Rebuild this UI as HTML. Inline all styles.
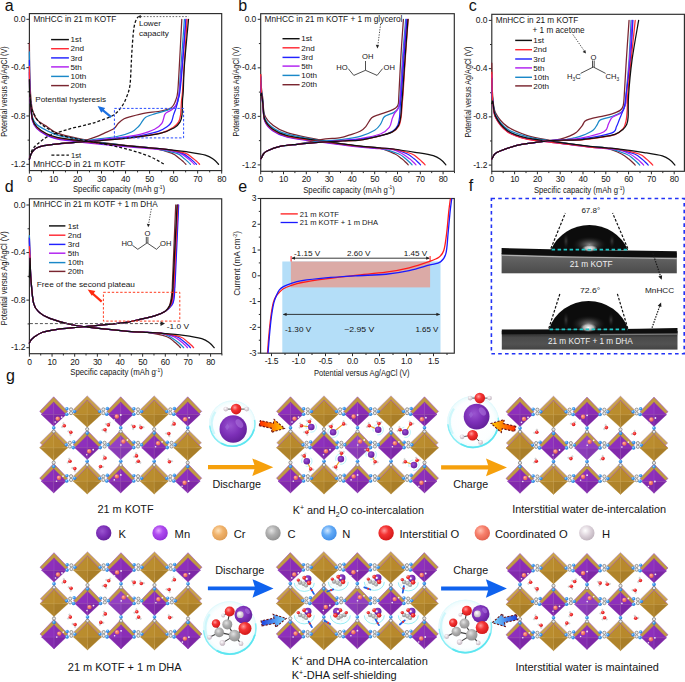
<!DOCTYPE html>
<html><head><meta charset="utf-8"><style>
html,body{margin:0;padding:0;background:#fff;}
body{width:685px;height:682px;overflow:hidden;}
svg{display:block;font-family:"Liberation Sans", sans-serif;}
</style></head><body>
<svg width="685" height="682" viewBox="0 0 685 682">
<rect x="29.4" y="13.6" width="192.3" height="157" fill="none" stroke="#2b2b2b" stroke-width="1.15"/>
<path d="M29.4,170.6v3M53.44,170.6v3M77.47,170.6v3M101.51,170.6v3M125.55,170.6v3M149.59,170.6v3M173.62,170.6v3M197.66,170.6v3M221.7,170.6v3M41.42,170.6v1.8M65.46,170.6v1.8M89.49,170.6v1.8M113.53,170.6v1.8M137.57,170.6v1.8M161.61,170.6v1.8M185.64,170.6v1.8M209.68,170.6v1.8M29.4,19.3h-3M29.4,67.63h-3M29.4,115.97h-3M29.4,164.3h-3M29.4,43.47h-1.8M29.4,91.8h-1.8M29.4,140.13h-1.8" stroke="#2b2b2b" stroke-width="1" fill="none"/>
<text x="29.4" y="181.7" font-size="8.5" text-anchor="middle" fill="#151515" letter-spacing="-0.3">0</text>
<text x="53.44" y="181.7" font-size="8.5" text-anchor="middle" fill="#151515" letter-spacing="-0.3">10</text>
<text x="77.47" y="181.7" font-size="8.5" text-anchor="middle" fill="#151515" letter-spacing="-0.3">20</text>
<text x="101.51" y="181.7" font-size="8.5" text-anchor="middle" fill="#151515" letter-spacing="-0.3">30</text>
<text x="125.55" y="181.7" font-size="8.5" text-anchor="middle" fill="#151515" letter-spacing="-0.3">40</text>
<text x="149.59" y="181.7" font-size="8.5" text-anchor="middle" fill="#151515" letter-spacing="-0.3">50</text>
<text x="173.62" y="181.7" font-size="8.5" text-anchor="middle" fill="#151515" letter-spacing="-0.3">60</text>
<text x="197.66" y="181.7" font-size="8.5" text-anchor="middle" fill="#151515" letter-spacing="-0.3">70</text>
<text x="221.7" y="181.7" font-size="8.5" text-anchor="middle" fill="#151515" letter-spacing="-0.3">80</text>
<text x="25.3" y="21.9" font-size="8.5" text-anchor="end" fill="#151515" letter-spacing="-0.1">0.0</text>
<text x="25.3" y="70.23" font-size="8.5" text-anchor="end" fill="#151515" letter-spacing="-0.1">-0.4</text>
<text x="25.3" y="118.57" font-size="8.5" text-anchor="end" fill="#151515" letter-spacing="-0.1">-0.8</text>
<text x="25.3" y="166.9" font-size="8.5" text-anchor="end" fill="#151515" letter-spacing="-0.1">-1.2</text>
<text transform="translate(7.3,91.6) rotate(-90)" text-anchor="middle" font-size="8.5" fill="#151515" textLength="90.3" lengthAdjust="spacingAndGlyphs">Potential versus Ag/AgCl (V)</text>
<text x="72.9" y="192.2" font-size="8.3" textLength="92.2" lengthAdjust="spacingAndGlyphs" fill="#151515">Specific capacity (mAh g<tspan font-size="5.2" dy="-3.2">-1</tspan><tspan dy="3.2">)</tspan></text>
<text x="33.4" y="21.7" font-size="8.2" textLength="82.8" lengthAdjust="spacingAndGlyphs" fill="#151515">MnHCC in 21 m KOTF</text>
<text x="33.2" y="166.9" font-size="8.2" textLength="92" lengthAdjust="spacingAndGlyphs" fill="#151515">MnHCC-D in 21 m KOTF</text>
<line x1="51.1" y1="39.6" x2="68.9" y2="39.6" stroke="#111111" stroke-width="1.45"/>
<text x="70.6" y="42.3" font-size="8.1" fill="#151515">1st</text>
<line x1="51.1" y1="48.7" x2="68.9" y2="48.7" stroke="#ff2a35" stroke-width="1.45"/>
<text x="70.6" y="51.4" font-size="8.1" fill="#151515">2nd</text>
<line x1="51.1" y1="57.9" x2="68.9" y2="57.9" stroke="#2222ff" stroke-width="1.45"/>
<text x="70.6" y="60.6" font-size="8.1" fill="#151515">3rd</text>
<line x1="51.1" y1="66.9" x2="68.9" y2="66.9" stroke="#b020f0" stroke-width="1.45"/>
<text x="70.6" y="69.6" font-size="8.1" fill="#151515">5th</text>
<line x1="51.1" y1="76.4" x2="68.9" y2="76.4" stroke="#1a88c8" stroke-width="1.45"/>
<text x="70.6" y="79.1" font-size="8.1" fill="#151515">10th</text>
<line x1="51.1" y1="85.6" x2="68.9" y2="85.6" stroke="#7a2630" stroke-width="1.45"/>
<text x="70.6" y="88.3" font-size="8.1" fill="#151515">20th</text>
<path d="M29.4,43.47 C29.45,48.1 29.49,62.83 29.69,71.25 C29.89,79.66 30.15,87.57 30.6,93.98 C31.05,100.38 31.36,105.41 32.4,109.68 C33.45,113.95 34.55,116.85 36.85,119.59 C39.16,122.33 42.82,123.86 46.23,126.12 C49.63,128.37 52,131.09 57.28,133.12 C62.57,135.16 70.58,136.78 77.96,138.32 C85.33,139.86 93.58,141.19 101.51,142.38 C109.44,143.57 117.54,144.56 125.55,145.45 C133.56,146.34 141.94,146.46 149.59,147.75 C157.24,149.03 166.53,151.43 171.46,153.18 C176.39,154.94 177.15,156.81 179.15,158.26 C181.16,159.71 182.36,160.88 183.48,161.88 C184.6,162.89 185.48,163.9 185.88,164.3" fill="none" stroke="#7a2630" stroke-width="1.25" stroke-linejoin="round" stroke-linecap="round"/>
<path d="M29.4,51.93 C29.45,56.38 29.49,70.56 29.69,78.67 C29.89,86.77 30.15,94.15 30.6,100.55 C31.05,106.95 31.36,113.07 32.4,117.05 C33.45,121.03 34.55,122.23 36.85,124.43 C39.16,126.62 42.82,128.45 46.23,130.22 C49.63,132 52,133.59 57.28,135.06 C62.57,136.53 70.58,137.77 77.96,139.05 C85.33,140.32 93.58,141.62 101.51,142.7 C109.44,143.79 117.54,144.7 125.55,145.55 C133.56,146.4 141.17,146.52 149.59,147.79 C158,149.07 170.34,151.44 176.03,153.18 C181.72,154.93 181.72,156.81 183.72,158.26 C185.72,159.71 186.93,160.88 188.05,161.88 C189.17,162.89 190.05,163.9 190.45,164.3" fill="none" stroke="#1a88c8" stroke-width="1.25" stroke-linejoin="round" stroke-linecap="round"/>
<path d="M29.4,72.47 C29.45,75.4 29.49,84.74 29.69,90.08 C29.89,95.41 30.15,99.41 30.6,104.49 C31.05,109.57 31.36,116.53 32.4,120.56 C33.45,124.59 34.55,126.22 36.85,128.65 C39.16,131.09 42.82,133.45 46.23,135.18 C49.63,136.91 52,137.94 57.28,139.05 C62.57,140.15 70.58,140.94 77.96,141.82 C85.33,142.71 93.58,143.58 101.51,144.36 C109.44,145.15 117.54,145.83 125.55,146.54 C133.56,147.24 142.78,148.03 149.59,148.59 C156.4,149.16 161.37,149.16 166.41,149.92 C171.46,150.69 176.35,151.79 179.87,153.18 C183.4,154.57 185.56,156.81 187.57,158.26 C189.57,159.71 190.77,160.88 191.89,161.88 C193.02,162.89 193.9,163.9 194.3,164.3" fill="none" stroke="#b020f0" stroke-width="1.25" stroke-linejoin="round" stroke-linecap="round"/>
<path d="M29.4,60.38 C29.45,64.37 29.49,77.06 29.69,84.31 C29.89,91.56 30.15,97.94 30.6,103.88 C31.05,109.82 31.36,115.93 32.4,119.95 C33.45,123.98 34.55,125.61 36.85,128.05 C39.16,130.49 42.82,132.84 46.23,134.58 C49.63,136.31 52,137.33 57.28,138.44 C62.57,139.55 70.58,140.33 77.96,141.22 C85.33,142.11 93.58,142.97 101.51,143.76 C109.44,144.54 117.54,145.23 125.55,145.93 C133.56,146.64 142.78,147.42 149.59,147.99 C156.4,148.55 161.01,148.45 166.41,149.32 C171.82,150.18 178.15,151.69 182.04,153.18 C185.92,154.67 187.73,156.81 189.73,158.26 C191.73,159.71 192.94,160.88 194.06,161.88 C195.18,162.89 196.06,163.9 196.46,164.3" fill="none" stroke="#2222ff" stroke-width="1.25" stroke-linejoin="round" stroke-linecap="round"/>
<path d="M29.4,66.43 C29.45,69.8 29.49,80.55 29.69,86.7 C29.89,92.84 30.15,97.84 30.6,103.28 C31.05,108.73 31.36,115.33 32.4,119.36 C33.45,123.39 34.55,125.03 36.85,127.48 C39.16,129.92 42.82,132.3 46.23,134.04 C49.63,135.79 52,136.82 57.28,137.95 C62.57,139.08 70.58,139.9 77.96,140.82 C85.33,141.74 93.58,142.64 101.51,143.46 C109.44,144.27 117.54,144.99 125.55,145.73 C133.56,146.47 142.78,147.29 149.59,147.89 C156.4,148.48 160.48,148.4 166.41,149.29 C172.34,150.17 180.76,151.69 185.16,153.18 C189.57,154.68 190.85,156.81 192.85,158.26 C194.86,159.71 196.06,160.88 197.18,161.88 C198.3,162.89 199.18,163.9 199.59,164.3" fill="none" stroke="#ff2a35" stroke-width="1.25" stroke-linejoin="round" stroke-linecap="round"/>
<path d="M29.4,79.72 C29.45,81.82 29.49,88.52 29.69,92.35 C29.89,96.18 30.15,98.28 30.6,102.69 C31.05,107.09 31.36,114.73 32.4,118.77 C33.45,122.81 34.55,124.45 36.85,126.9 C39.16,129.36 42.82,131.75 46.23,133.51 C49.63,135.27 52,136.32 57.28,137.47 C62.57,138.62 70.58,139.47 77.96,140.42 C85.33,141.37 93.58,142.3 101.51,143.15 C109.44,144.01 117.54,144.76 125.55,145.53 C133.56,146.3 142.78,147.17 149.59,147.79 C156.4,148.41 160.32,148.6 166.41,149.26 C172.5,149.91 179.63,150.76 186.12,151.73 C192.61,152.71 200.75,153.83 205.35,155.12 C209.96,156.41 211.56,157.94 213.77,159.47 C215.97,161 217.77,163.49 218.58,164.3" fill="none" stroke="#111111" stroke-width="1.25" stroke-linejoin="round" stroke-linecap="round"/>
<path d="M29.4,158.26 C29.64,157.65 30.24,155.84 30.84,154.63 C31.44,153.43 32.04,152.12 33.01,151.01 C33.97,149.9 34.81,148.89 36.61,147.99 C38.41,147.08 40.22,146.28 43.82,145.57 C47.43,144.87 52.64,144.32 58.24,143.76 C63.85,143.19 71.35,143.3 77.47,142.19 C83.6,141.08 90.54,138.62 95.02,137.11 C99.51,135.6 101.23,134.57 104.4,133.12 C107.56,131.68 111.69,130.06 114.01,128.41 C116.34,126.76 116.66,124.83 118.34,123.22 C120.02,121.61 121.9,119.89 124.11,118.75 C126.31,117.6 128.07,117.28 131.56,116.33 C135.04,115.38 140.57,113.87 145.02,113.07 C149.47,112.26 154.19,112.2 158.24,111.5 C162.29,110.79 166.73,109.93 169.3,108.84 C171.86,107.75 172.54,106.44 173.62,104.97 C174.71,103.5 175.11,102.21 175.79,100.02 C176.47,97.82 177.11,97.64 177.71,91.8 C178.31,85.96 178.71,77.06 179.39,64.98 C180.08,52.89 181.4,26.91 181.8,19.3" fill="none" stroke="#7a2630" stroke-width="1.25" stroke-linejoin="round" stroke-linecap="round"/>
<path d="M29.4,159.47 C29.64,158.66 30.24,156.04 30.84,154.63 C31.44,153.22 32.04,152.12 33.01,151.01 C33.97,149.9 34.81,148.89 36.61,147.99 C38.41,147.08 40.22,146.28 43.82,145.57 C47.43,144.87 52.64,144.32 58.24,143.76 C63.85,143.19 71.35,142.91 77.47,142.19 C83.6,141.46 88.45,140.35 95.02,139.41 C101.59,138.46 110.81,137.74 116.9,136.51 C122.99,135.28 127.91,133.75 131.56,132.04 C135.21,130.33 136.97,128.05 138.77,126.24 C140.57,124.43 141.21,122.67 142.38,121.16 C143.54,119.65 143.7,118.38 145.74,117.18 C147.78,115.97 150.99,115.08 154.64,113.91 C158.28,112.74 164.33,111.27 167.62,110.17 C170.9,109.06 172.74,108.47 174.35,107.27 C175.95,106.06 176.59,104.12 177.23,102.92 C177.87,101.71 177.87,101.87 178.19,100.02 C178.51,98.16 178.67,97.64 179.15,91.8 C179.63,85.96 180.2,77.06 181.08,64.98 C181.96,52.89 183.88,26.91 184.44,19.3" fill="none" stroke="#1a88c8" stroke-width="1.25" stroke-linejoin="round" stroke-linecap="round"/>
<path d="M29.4,159.47 C29.64,158.66 30.24,156.04 30.84,154.63 C31.44,153.22 32.04,152.12 33.01,151.01 C33.97,149.9 34.81,148.89 36.61,147.99 C38.41,147.08 40.22,146.28 43.82,145.57 C47.43,144.87 52.64,144.32 58.24,143.76 C63.85,143.19 70.26,142.89 77.47,142.19 C84.69,141.48 93.5,140.44 101.51,139.53 C109.52,138.62 119.14,137.62 125.55,136.75 C131.96,135.88 135.12,135.58 139.97,134.33 C144.82,133.08 150.99,131.07 154.64,129.26 C158.28,127.45 160.16,125.9 161.85,123.46 C163.53,121.02 163.77,116.55 164.73,114.64 C165.69,112.72 166.37,112.83 167.62,111.98 C168.86,111.13 170.7,110.83 172.18,109.56 C173.67,108.29 175.63,105.96 176.51,104.37 C177.39,102.78 176.99,102.11 177.47,100.02 C177.95,97.92 178.63,97.64 179.39,91.8 C180.16,85.96 180.92,77.06 182.04,64.98 C183.16,52.89 185.44,26.91 186.12,19.3" fill="none" stroke="#b020f0" stroke-width="1.25" stroke-linejoin="round" stroke-linecap="round"/>
<path d="M29.4,159.47 C29.64,158.66 30.24,156.04 30.84,154.63 C31.44,153.22 32.04,152.12 33.01,151.01 C33.97,149.9 34.81,148.89 36.61,147.99 C38.41,147.08 40.22,146.28 43.82,145.57 C47.43,144.87 52.64,144.32 58.24,143.76 C63.85,143.19 70.26,142.79 77.47,142.19 C84.69,141.58 93.5,140.88 101.51,140.13 C109.52,139.39 119.14,138.44 125.55,137.72 C131.96,136.99 134.52,136.83 139.97,135.78 C145.42,134.74 153.63,133 158.24,131.43 C162.85,129.86 165.41,127.95 167.62,126.36 C169.82,124.77 170.46,123.84 171.46,121.89 C172.46,119.93 172.9,116.81 173.62,114.64 C174.35,112.46 175.19,110.67 175.79,108.84 C176.39,107 176.87,105.11 177.23,103.64 C177.59,102.17 177.51,101.99 177.95,100.02 C178.39,98.04 179.11,97.64 179.87,91.8 C180.64,85.96 181.52,77.06 182.52,64.98 C183.52,52.89 185.32,26.91 185.88,19.3" fill="none" stroke="#2222ff" stroke-width="1.25" stroke-linejoin="round" stroke-linecap="round"/>
<path d="M29.4,159.47 C29.64,158.66 30.24,156.04 30.84,154.63 C31.44,153.22 32.04,152.12 33.01,151.01 C33.97,149.9 34.81,148.89 36.61,147.99 C38.41,147.08 40.22,146.28 43.82,145.57 C47.43,144.87 52.64,144.32 58.24,143.76 C63.85,143.19 70.26,142.73 77.47,142.19 C84.69,141.64 93.5,141.14 101.51,140.5 C109.52,139.85 119.14,138.99 125.55,138.32 C131.96,137.66 133.92,137.41 139.97,136.51 C146.02,135.6 156.36,134.35 161.85,132.88 C167.34,131.41 170.1,129.52 172.9,127.69 C175.71,125.85 177.39,124.06 178.67,121.89 C179.95,119.71 180.2,117.07 180.6,114.64 C181,112.2 180.92,109.7 181.08,107.27 C181.24,104.83 181.32,102.59 181.56,100.02 C181.8,97.44 182.08,97.64 182.52,91.8 C182.96,85.96 183.44,77.06 184.2,64.98 C184.96,52.89 186.61,26.91 187.09,19.3" fill="none" stroke="#ff2a35" stroke-width="1.25" stroke-linejoin="round" stroke-linecap="round"/>
<path d="M29.4,159.47 C29.64,158.66 30.24,156.04 30.84,154.63 C31.44,153.22 32.04,152.12 33.01,151.01 C33.97,149.9 34.81,148.89 36.61,147.99 C38.41,147.08 40.22,146.28 43.82,145.57 C47.43,144.87 52.64,144.32 58.24,143.76 C63.85,143.19 70.26,142.73 77.47,142.19 C84.69,141.64 93.5,141.14 101.51,140.5 C109.52,139.85 119.14,138.99 125.55,138.32 C131.96,137.66 134.36,137.29 139.97,136.51 C145.58,135.72 153.47,135.08 159.2,133.61 C164.93,132.14 170.86,129.64 174.35,127.69 C177.83,125.73 178.83,124.06 180.12,121.89 C181.4,119.71 181.64,118.28 182.04,114.64 C182.44,110.99 182.32,103.82 182.52,100.02 C182.72,96.21 182.92,97.64 183.24,91.8 C183.56,85.96 183.56,77.06 184.44,64.98 C185.32,52.89 187.85,26.91 188.53,19.3" fill="none" stroke="#111111" stroke-width="1.25" stroke-linejoin="round" stroke-linecap="round"/>
<path d="M29.88,94.22 C30.12,96.43 30.56,104.08 31.32,107.51 C32.08,110.93 33.17,112.34 34.45,114.76 C35.73,117.18 37.41,120.12 39.02,122.01 C40.62,123.9 42.06,124.71 44.06,126.12 C46.07,127.53 48.31,128.98 51.03,130.47 C53.76,131.96 56.16,133.65 60.41,135.06 C64.65,136.47 70.46,137.68 76.51,138.93 C82.56,140.17 89.45,141.14 96.7,142.55 C103.96,143.96 113.21,145.77 120.02,147.38 C126.83,148.99 132.64,150.71 137.57,152.22 C142.5,153.73 146.18,155.04 149.59,156.45 C152.99,157.86 155.64,159.41 158,160.68 C160.36,161.94 162.81,163.49 163.77,164.06" fill="none" stroke="#111" stroke-width="1.3" stroke-dasharray="3,2" stroke-linejoin="round" stroke-linecap="butt"/>
<path d="M30.12,157.05 C30.48,155.84 31,152.02 32.28,149.8 C33.57,147.58 35.01,146.09 37.81,143.76 C40.62,141.42 44.02,138.2 49.11,135.78 C54.2,133.37 61.85,131.15 68.34,129.26 C74.83,127.37 82.52,125.94 88.05,124.43 C93.58,122.91 97.19,121.81 101.51,120.2 C105.84,118.58 110.61,117.07 114.01,114.76 C117.42,112.44 119.82,109.32 121.94,106.3 C124.07,103.28 125.43,100.06 126.75,96.63 C128.07,93.21 129.16,90.59 129.88,85.76 C130.6,80.93 130.76,73.07 131.08,67.63 C131.4,62.2 131.4,59.18 131.8,53.13 C132.2,47.09 132.88,36.62 133.48,31.38 C134.08,26.15 134.64,24.13 135.41,21.72 C136.17,19.3 137.61,17.69 138.05,16.88" fill="none" stroke="#111" stroke-width="1.3" stroke-dasharray="3,2" stroke-linejoin="round" stroke-linecap="butt"/>
<path d="M140.5,16.6H188.7" stroke="#444" stroke-width="0.8" stroke-dasharray="1.6,1.6"/>
<path d="M137.6,16.6l3.2,-1.6v3.2z" fill="#222"/>
<text x="138.9" y="26.4" font-size="7.6" textLength="22" lengthAdjust="spacingAndGlyphs" fill="#151515">Lower</text>
<text x="138.9" y="36.4" font-size="7.6" textLength="30" lengthAdjust="spacingAndGlyphs" fill="#151515">capacity</text>
<rect x="114.4" y="108.4" width="69.2" height="29.5" fill="none" stroke="#2a4dff" stroke-width="1" stroke-dasharray="2.4,1.8"/>
<text x="35.3" y="101.9" font-size="7.8" textLength="70.8" lengthAdjust="spacingAndGlyphs" fill="#151515">Potential hysteresis</text>
<path d="M111.2,117.2L101.5,109.2" stroke="#1a6fe0" stroke-width="2.2"/><path d="M97.6,105.9l7.6,2.2l-3.9,4.6z" fill="#1a6fe0"/>
<line x1="51.4" y1="155.2" x2="68.9" y2="155.2" stroke="#111" stroke-width="1.3" stroke-dasharray="3,2"/>
<text x="71.1" y="157.9" font-size="7.6" fill="#151515">1st</text>
<text x="4.7" y="10.7" font-size="16" fill="#111">a</text>
<text x="238.2" y="10.5" font-size="16" fill="#111">b</text>
<text x="468.7" y="10.5" font-size="16" fill="#111">c</text>
<text x="4.7" y="191.6" font-size="16" fill="#111">d</text>
<text x="238.2" y="191.7" font-size="16" fill="#111">e</text>
<text x="468.7" y="190.8" font-size="16" fill="#111">f</text>
<text x="6" y="381.4" font-size="16" fill="#111">g</text>
<rect x="260.7" y="13.7" width="193.6" height="157.6" fill="none" stroke="#2b2b2b" stroke-width="1.15"/>
<path d="M260.7,171.3v3M283.5,171.3v3M306.3,171.3v3M329.1,171.3v3M351.9,171.3v3M374.7,171.3v3M397.5,171.3v3M420.3,171.3v3M443.1,171.3v3M272.1,171.3v1.8M294.9,171.3v1.8M317.7,171.3v1.8M340.5,171.3v1.8M363.3,171.3v1.8M386.1,171.3v1.8M408.9,171.3v1.8M431.7,171.3v1.8M454.5,171.3v1.8M260.7,19.3h-3M260.7,67.83h-3M260.7,116.37h-3M260.7,164.9h-3M260.7,43.57h-1.8M260.7,92.1h-1.8M260.7,140.63h-1.8" stroke="#2b2b2b" stroke-width="1" fill="none"/>
<text x="260.7" y="182" font-size="8.5" text-anchor="middle" fill="#151515" letter-spacing="-0.3">0</text>
<text x="283.5" y="182" font-size="8.5" text-anchor="middle" fill="#151515" letter-spacing="-0.3">10</text>
<text x="306.3" y="182" font-size="8.5" text-anchor="middle" fill="#151515" letter-spacing="-0.3">20</text>
<text x="329.1" y="182" font-size="8.5" text-anchor="middle" fill="#151515" letter-spacing="-0.3">30</text>
<text x="351.9" y="182" font-size="8.5" text-anchor="middle" fill="#151515" letter-spacing="-0.3">40</text>
<text x="374.7" y="182" font-size="8.5" text-anchor="middle" fill="#151515" letter-spacing="-0.3">50</text>
<text x="397.5" y="182" font-size="8.5" text-anchor="middle" fill="#151515" letter-spacing="-0.3">60</text>
<text x="420.3" y="182" font-size="8.5" text-anchor="middle" fill="#151515" letter-spacing="-0.3">70</text>
<text x="443.1" y="182" font-size="8.5" text-anchor="middle" fill="#151515" letter-spacing="-0.3">80</text>
<text x="256.2" y="21.9" font-size="8.5" text-anchor="end" fill="#151515" letter-spacing="-0.1">0.0</text>
<text x="256.2" y="70.43" font-size="8.5" text-anchor="end" fill="#151515" letter-spacing="-0.1">-0.4</text>
<text x="256.2" y="118.97" font-size="8.5" text-anchor="end" fill="#151515" letter-spacing="-0.1">-0.8</text>
<text x="256.2" y="167.5" font-size="8.5" text-anchor="end" fill="#151515" letter-spacing="-0.1">-1.2</text>
<text transform="translate(238.5,91.6) rotate(-90)" text-anchor="middle" font-size="8.5" fill="#151515" textLength="89.9" lengthAdjust="spacingAndGlyphs">Potential versus Ag/AgCl (V)</text>
<text x="303.2" y="192.6" font-size="8.3" textLength="91.6" lengthAdjust="spacingAndGlyphs" fill="#151515">Specific capacity (mAh g<tspan font-size="5.2" dy="-3.2">-1</tspan><tspan dy="3.2">)</tspan></text>
<text x="264.5" y="22.1" font-size="8.2" textLength="137.9" lengthAdjust="spacingAndGlyphs" fill="#151515">MnHCC in 21 m KOTF + 1 m glycerol</text>
<line x1="282.5" y1="38.7" x2="299.6" y2="38.7" stroke="#111111" stroke-width="1.45"/>
<text x="301.2" y="41.4" font-size="8.1" fill="#151515">1st</text>
<line x1="282.5" y1="47.8" x2="299.6" y2="47.8" stroke="#ff2a35" stroke-width="1.45"/>
<text x="301.2" y="50.5" font-size="8.1" fill="#151515">2nd</text>
<line x1="282.5" y1="57.4" x2="299.6" y2="57.4" stroke="#2222ff" stroke-width="1.45"/>
<text x="301.2" y="60.1" font-size="8.1" fill="#151515">3rd</text>
<line x1="282.5" y1="66.1" x2="299.6" y2="66.1" stroke="#b020f0" stroke-width="1.45"/>
<text x="301.2" y="68.8" font-size="8.1" fill="#151515">5th</text>
<line x1="282.5" y1="75.4" x2="299.6" y2="75.4" stroke="#1a88c8" stroke-width="1.45"/>
<text x="301.2" y="78.1" font-size="8.1" fill="#151515">10th</text>
<line x1="282.5" y1="84.7" x2="299.6" y2="84.7" stroke="#7a2630" stroke-width="1.45"/>
<text x="301.2" y="87.4" font-size="8.1" fill="#151515">20th</text>
<path d="M260.7,74.51 C260.75,75.9 260.82,80.32 260.97,82.85 C261.13,85.38 261.29,86.92 261.61,89.67 C261.93,92.43 262.38,95.13 262.89,99.38 C263.4,103.63 263.08,110.91 264.69,115.15 C266.3,119.4 268.81,121.95 272.56,124.86 C276.3,127.77 279.09,130.08 287.15,132.63 C295.2,135.17 309.07,137.88 320.89,140.15 C332.71,142.41 348.33,144.9 358.06,146.21 C367.78,147.53 373.18,146.78 379.26,148.03 C385.34,149.29 390.77,151.94 394.54,153.74 C398.3,155.54 399.93,157.38 401.83,158.83 C403.73,160.29 404.87,161.46 405.94,162.47 C407,163.48 407.84,164.5 408.22,164.9" fill="none" stroke="#7a2630" stroke-width="1.25" stroke-linejoin="round" stroke-linecap="round"/>
<path d="M260.7,77.54 C260.75,78.88 260.82,83.12 260.97,85.55 C261.13,87.98 261.29,89.4 261.61,92.11 C261.93,94.82 262.38,97.58 262.89,101.83 C263.4,106.08 263.08,113.36 264.69,117.62 C266.3,121.88 268.81,124.65 272.56,127.4 C276.3,130.14 279.09,131.88 287.15,134.08 C295.2,136.29 309.07,138.61 320.89,140.63 C332.71,142.66 348.33,144.98 358.06,146.21 C367.78,147.45 372.53,146.78 379.26,148.03 C385.99,149.29 394,151.94 398.41,153.74 C402.82,155.54 403.81,157.38 405.71,158.83 C407.61,160.29 408.75,161.46 409.81,162.47 C410.88,163.48 411.71,164.5 412.09,164.9" fill="none" stroke="#1a88c8" stroke-width="1.25" stroke-linejoin="round" stroke-linecap="round"/>
<path d="M260.7,82.03 C260.75,83.26 260.82,87.19 260.97,89.44 C261.13,91.68 261.29,92.87 261.61,95.49 C261.93,98.12 262.38,100.95 262.89,105.2 C263.4,109.44 263.08,116.72 264.69,120.97 C266.3,125.21 268.81,127.95 272.56,130.65 C276.3,133.35 279.09,135.24 287.15,137.16 C295.2,139.07 309.07,140.53 320.89,142.15 C332.71,143.77 348.33,145.81 358.06,146.89 C367.78,147.97 373.45,148.18 379.26,148.64 C385.07,149.11 389.1,148.85 392.94,149.7 C396.78,150.54 399.51,152.21 402.29,153.74 C405.06,155.26 407.68,157.38 409.58,158.83 C411.48,160.29 412.62,161.46 413.69,162.47 C414.75,163.48 415.59,164.5 415.97,164.9" fill="none" stroke="#b020f0" stroke-width="1.25" stroke-linejoin="round" stroke-linecap="round"/>
<path d="M260.7,76.33 C260.75,78.04 260.82,83.49 260.97,86.6 C261.13,89.72 261.29,91.99 261.61,95.01 C261.93,98.03 262.38,100.47 262.89,104.71 C263.4,108.96 263.08,116.24 264.69,120.48 C266.3,124.72 268.81,127.46 272.56,130.16 C276.3,132.86 279.09,134.75 287.15,136.67 C295.2,138.59 309.07,140.04 320.89,141.66 C332.71,143.29 348.33,145.32 358.06,146.4 C367.78,147.49 373.45,147.69 379.26,148.16 C385.07,148.63 388.34,148.28 392.94,149.21 C397.54,150.14 403.31,152.13 406.85,153.74 C410.38,155.34 412.24,157.38 414.14,158.83 C416.04,160.29 417.18,161.46 418.25,162.47 C419.31,163.48 420.15,164.5 420.53,164.9" fill="none" stroke="#2222ff" stroke-width="1.25" stroke-linejoin="round" stroke-linecap="round"/>
<path d="M260.7,74.51 C260.75,76.34 260.82,82.18 260.97,85.52 C261.13,88.85 261.29,91.41 261.61,94.53 C261.93,97.65 262.38,99.99 262.89,104.23 C263.4,108.48 263.08,115.76 264.69,120.01 C266.3,124.25 268.81,127 272.56,129.71 C276.3,132.42 279.09,134.32 287.15,136.27 C295.2,138.21 309.07,139.7 320.89,141.36 C332.71,143.02 348.33,145.1 358.06,146.21 C367.78,147.33 373.45,147.55 379.26,148.03 C385.07,148.52 387.58,148.18 392.94,149.13 C398.3,150.08 407.11,152.12 411.41,153.74 C415.7,155.36 416.8,157.38 418.7,158.83 C420.6,160.29 421.74,161.46 422.81,162.47 C423.87,163.48 424.71,164.5 425.09,164.9" fill="none" stroke="#ff2a35" stroke-width="1.25" stroke-linejoin="round" stroke-linecap="round"/>
<path d="M260.7,95.25 C260.75,95.12 260.82,94.7 260.97,94.46 C261.13,94.21 261.29,92.29 261.61,93.8 C261.93,95.31 262.38,99.27 262.89,103.52 C263.4,107.76 263.08,115.04 264.69,119.3 C266.3,123.55 268.81,126.31 272.56,129.04 C276.3,131.77 279.09,133.68 287.15,135.66 C295.2,137.64 309.07,139.2 320.89,140.91 C332.71,142.62 348.33,144.77 358.06,145.93 C367.78,147.09 373.45,147.34 379.26,147.85 C385.07,148.36 386.97,148.26 392.94,149 C398.91,149.74 408.33,151.17 415.06,152.28 C421.78,153.39 428.93,154.38 433.3,155.68 C437.67,156.97 439.19,158.51 441.28,160.05 C443.37,161.58 445.08,164.09 445.84,164.9" fill="none" stroke="#111111" stroke-width="1.25" stroke-linejoin="round" stroke-linecap="round"/>
<path d="M260.7,158.83 C260.85,158.63 261.16,158.43 261.61,157.62 C262.07,156.81 262.52,155.09 263.44,153.98 C264.35,152.87 264.31,152.2 267.08,150.95 C269.86,149.69 275.06,147.57 280.08,146.46 C285.1,145.35 290.38,145.41 297.18,144.27 C303.98,143.14 313.67,140.77 320.89,139.66 C328.11,138.55 335.64,138.41 340.5,137.6 C345.36,136.79 346.81,135.86 350.08,134.81 C353.34,133.76 357.49,132.67 360.11,131.29 C362.73,129.92 363.87,128.82 365.81,126.56 C367.75,124.29 369.65,119.66 371.74,117.7 C373.83,115.74 375.42,115.88 378.35,114.79 C381.27,113.7 386.48,112.24 389.29,111.15 C392.1,110.06 393.74,109.35 395.22,108.24 C396.7,107.13 397.58,106.68 398.18,104.48 C398.79,102.27 398.41,103.14 398.87,95.01 C399.32,86.88 400.16,68.32 400.92,55.7 C401.68,43.08 403.01,25.37 403.43,19.3" fill="none" stroke="#7a2630" stroke-width="1.25" stroke-linejoin="round" stroke-linecap="round"/>
<path d="M260.7,158.83 C260.85,158.63 261.16,158.43 261.61,157.62 C262.07,156.81 262.52,155.09 263.44,153.98 C264.35,152.87 264.31,152.2 267.08,150.95 C269.86,149.69 275.06,147.57 280.08,146.46 C285.1,145.35 290.38,145.16 297.18,144.27 C303.98,143.38 313.29,141.93 320.89,141.12 C328.49,140.31 336.24,140.21 342.78,139.42 C349.32,138.63 354.79,137.92 360.11,136.39 C365.43,134.85 371.32,132.2 374.7,130.2 C378.08,128.2 378.92,126.46 380.4,124.37 C381.88,122.29 382.6,119.18 383.59,117.7 C384.58,116.23 384.66,116.37 386.33,115.52 C388,114.67 391.65,113.82 393.62,112.61 C395.6,111.39 397.12,110.44 398.18,108.24 C399.25,106.03 399.67,101.58 400.01,99.38 C400.35,97.18 399.78,102.29 400.24,95.01 C400.69,87.73 401.83,68.32 402.74,55.7 C403.66,43.08 405.21,25.37 405.71,19.3" fill="none" stroke="#1a88c8" stroke-width="1.25" stroke-linejoin="round" stroke-linecap="round"/>
<path d="M260.7,158.83 C260.85,158.63 261.16,158.43 261.61,157.62 C262.07,156.81 262.52,155.09 263.44,153.98 C264.35,152.87 264.31,152.2 267.08,150.95 C269.86,149.69 275.06,147.57 280.08,146.46 C285.1,145.35 290.38,145 297.18,144.27 C303.98,143.55 313.29,142.74 320.89,142.09 C328.49,141.44 336.24,140.98 342.78,140.39 C349.32,139.8 353.84,139.64 360.11,138.57 C366.38,137.5 375.54,135.84 380.4,133.96 C385.26,132.08 387.32,129.85 389.29,127.29 C391.27,124.72 391.38,120.88 392.26,118.55 C393.13,116.23 393.55,115.05 394.54,113.33 C395.52,111.61 397.23,110.66 398.18,108.24 C399.13,105.81 399.36,107.53 400.24,98.77 C401.11,90.02 402.36,68.95 403.43,55.7 C404.49,42.45 406.09,25.37 406.62,19.3" fill="none" stroke="#b020f0" stroke-width="1.25" stroke-linejoin="round" stroke-linecap="round"/>
<path d="M260.7,158.83 C260.85,158.63 261.16,158.43 261.61,157.62 C262.07,156.81 262.52,155.09 263.44,153.98 C264.35,152.87 264.31,152.2 267.08,150.95 C269.86,149.69 275.06,147.57 280.08,146.46 C285.1,145.35 290.38,145 297.18,144.27 C303.98,143.55 313.29,142.7 320.89,142.09 C328.49,141.48 336.24,141.08 342.78,140.63 C349.32,140.19 353.57,140.31 360.11,139.42 C366.64,138.53 376.52,136.71 382,135.29 C387.47,133.88 390.36,132.5 392.94,130.93 C395.52,129.35 396.4,128.16 397.5,125.83 C398.6,123.51 399.1,120.27 399.55,116.97 C400.01,113.68 399.93,109.71 400.24,106.05 C400.54,102.39 400.73,103.4 401.38,95.01 C402.02,86.62 403.16,68.32 404.11,55.7 C405.06,43.08 406.58,25.37 407.08,19.3" fill="none" stroke="#2222ff" stroke-width="1.25" stroke-linejoin="round" stroke-linecap="round"/>
<path d="M260.7,158.83 C260.85,158.63 261.16,158.43 261.61,157.62 C262.07,156.81 262.52,155.09 263.44,153.98 C264.35,152.87 264.31,152.2 267.08,150.95 C269.86,149.69 275.06,147.57 280.08,146.46 C285.1,145.35 290.38,145 297.18,144.27 C303.98,143.55 313.29,142.64 320.89,142.09 C328.49,141.54 336.24,141.32 342.78,141 C349.32,140.67 354.6,140.82 360.11,140.15 C365.62,139.48 370.37,138.39 375.84,136.99 C381.31,135.6 389.1,133.64 392.94,131.78 C396.78,129.92 397.5,128.3 398.87,125.83 C400.24,123.36 400.58,120.9 401.15,116.97 C401.72,113.05 401.98,105.95 402.29,102.29 C402.59,98.63 402.44,102.78 402.97,95.01 C403.5,87.25 404.61,68.32 405.48,55.7 C406.35,43.08 407.76,25.37 408.22,19.3" fill="none" stroke="#ff2a35" stroke-width="1.25" stroke-linejoin="round" stroke-linecap="round"/>
<path d="M260.7,158.83 C260.85,158.63 261.16,158.43 261.61,157.62 C262.07,156.81 262.52,155.09 263.44,153.98 C264.35,152.87 264.31,152.2 267.08,150.95 C269.86,149.69 275.06,147.57 280.08,146.46 C285.1,145.35 290.38,145 297.18,144.27 C303.98,143.55 313.29,142.64 320.89,142.09 C328.49,141.54 336.24,141.34 342.78,141 C349.32,140.65 354.6,140.71 360.11,140.03 C365.62,139.34 370.52,138.19 375.84,136.87 C381.16,135.56 388.3,133.94 392.03,132.14 C395.75,130.34 396.74,128.6 398.18,126.07 C399.63,123.55 400.08,120.94 400.69,116.97 C401.3,113.01 401.53,105.95 401.83,102.29 C402.14,98.63 401.95,102.78 402.52,95.01 C403.09,87.25 404.34,68.32 405.25,55.7 C406.16,43.08 407.53,25.37 407.99,19.3" fill="none" stroke="#111111" stroke-width="1.25" stroke-linejoin="round" stroke-linecap="round"/>
<g stroke="#222" stroke-width="0.8" fill="none"><path d="M348.2,68.6L353.8,75.4L365.5,70.3L377.1,75.4L382.6,68.6M365.5,70.3V61"/></g>
<text x="336.3" y="70" font-size="7.6" fill="#151515">HO</text>
<text x="383.6" y="70" font-size="7.6" fill="#151515">OH</text>
<text x="362" y="59.3" font-size="7.6" fill="#151515">OH</text>
<path d="M380.6,24L377.9,45" stroke="#222" stroke-width="0.8" stroke-dasharray="1.3,1.3"/><path d="M377.4,48.4l-1.6,-3.6l3.3,0.4z" fill="#222"/>
<rect x="491.8" y="14.3" width="192.6" height="157" fill="none" stroke="#2b2b2b" stroke-width="1.15"/>
<path d="M491.8,171.3v3M514.6,171.3v3M537.4,171.3v3M560.2,171.3v3M583,171.3v3M605.8,171.3v3M628.6,171.3v3M651.4,171.3v3M674.2,171.3v3M503.2,171.3v1.8M526,171.3v1.8M548.8,171.3v1.8M571.6,171.3v1.8M594.4,171.3v1.8M617.2,171.3v1.8M640,171.3v1.8M662.8,171.3v1.8M685.6,171.3v1.8M491.8,20.4h-3M491.8,68.63h-3M491.8,116.87h-3M491.8,165.1h-3M491.8,44.52h-1.8M491.8,92.75h-1.8M491.8,140.98h-1.8" stroke="#2b2b2b" stroke-width="1" fill="none"/>
<text x="491.8" y="182.3" font-size="8.5" text-anchor="middle" fill="#151515" letter-spacing="-0.3">0</text>
<text x="514.6" y="182.3" font-size="8.5" text-anchor="middle" fill="#151515" letter-spacing="-0.3">10</text>
<text x="537.4" y="182.3" font-size="8.5" text-anchor="middle" fill="#151515" letter-spacing="-0.3">20</text>
<text x="560.2" y="182.3" font-size="8.5" text-anchor="middle" fill="#151515" letter-spacing="-0.3">30</text>
<text x="583" y="182.3" font-size="8.5" text-anchor="middle" fill="#151515" letter-spacing="-0.3">40</text>
<text x="605.8" y="182.3" font-size="8.5" text-anchor="middle" fill="#151515" letter-spacing="-0.3">50</text>
<text x="628.6" y="182.3" font-size="8.5" text-anchor="middle" fill="#151515" letter-spacing="-0.3">60</text>
<text x="651.4" y="182.3" font-size="8.5" text-anchor="middle" fill="#151515" letter-spacing="-0.3">70</text>
<text x="674.2" y="182.3" font-size="8.5" text-anchor="middle" fill="#151515" letter-spacing="-0.3">80</text>
<text x="487.4" y="23" font-size="8.5" text-anchor="end" fill="#151515" letter-spacing="-0.1">0.0</text>
<text x="487.4" y="71.23" font-size="8.5" text-anchor="end" fill="#151515" letter-spacing="-0.1">-0.4</text>
<text x="487.4" y="119.47" font-size="8.5" text-anchor="end" fill="#151515" letter-spacing="-0.1">-0.8</text>
<text x="487.4" y="167.7" font-size="8.5" text-anchor="end" fill="#151515" letter-spacing="-0.1">-1.2</text>
<text transform="translate(471.2,92.1) rotate(-90)" text-anchor="middle" font-size="8.5" fill="#151515" textLength="90.8" lengthAdjust="spacingAndGlyphs">Potential versus Ag/AgCl (V)</text>
<text x="533.9" y="192.8" font-size="8.3" textLength="91" lengthAdjust="spacingAndGlyphs" fill="#151515">Specific capacity (mAh g<tspan font-size="5.2" dy="-3.2">-1</tspan><tspan dy="3.2">)</tspan></text>
<text x="495.8" y="22.8" font-size="8.2" textLength="82.5" lengthAdjust="spacingAndGlyphs" fill="#151515">MnHCC in 21 m KOTF</text>
<text x="532.5" y="32.7" font-size="8.2" textLength="52.1" lengthAdjust="spacingAndGlyphs" fill="#151515">+ 1 m acetone</text>
<line x1="515.2" y1="40.4" x2="532" y2="40.4" stroke="#111111" stroke-width="1.45"/>
<text x="533.2" y="43.1" font-size="8.1" fill="#151515">1st</text>
<line x1="515.2" y1="49.7" x2="532" y2="49.7" stroke="#ff2a35" stroke-width="1.45"/>
<text x="533.2" y="52.4" font-size="8.1" fill="#151515">2nd</text>
<line x1="515.2" y1="59" x2="532" y2="59" stroke="#2222ff" stroke-width="1.45"/>
<text x="533.2" y="61.7" font-size="8.1" fill="#151515">3rd</text>
<line x1="515.2" y1="67.9" x2="532" y2="67.9" stroke="#b020f0" stroke-width="1.45"/>
<text x="533.2" y="70.6" font-size="8.1" fill="#151515">5th</text>
<line x1="515.2" y1="77.3" x2="532" y2="77.3" stroke="#1a88c8" stroke-width="1.45"/>
<text x="533.2" y="80" font-size="8.1" fill="#151515">10th</text>
<line x1="515.2" y1="85.9" x2="532" y2="85.9" stroke="#7a2630" stroke-width="1.45"/>
<text x="533.2" y="88.6" font-size="8.1" fill="#151515">20th</text>
<path d="M491.8,63.21 C491.85,66.46 491.88,76.83 492.07,82.75 C492.26,88.67 492.34,93.68 492.94,98.73 C493.54,103.79 493.28,108.45 495.68,113.1 C498.07,117.75 502.14,122.93 507.3,126.63 C512.47,130.34 519.58,133.04 526.68,135.32 C533.79,137.59 539.72,138.41 549.94,140.26 C560.16,142.11 578.71,145.12 588.02,146.41 C597.33,147.7 600.21,146.71 605.8,147.98 C611.39,149.24 617.69,152.16 621.53,154.01 C625.37,155.86 626.93,157.62 628.83,159.07 C630.73,160.52 631.87,161.68 632.93,162.69 C634,163.69 634.83,164.7 635.21,165.1" fill="none" stroke="#7a2630" stroke-width="1.25" stroke-linejoin="round" stroke-linecap="round"/>
<path d="M491.8,80.69 C491.85,82.52 491.88,88.32 492.07,91.63 C492.26,94.95 492.34,96.68 492.94,100.59 C493.54,104.49 493.28,110.31 495.68,115.06 C498.07,119.8 502.14,125.47 507.3,129.05 C512.47,132.62 519.58,134.55 526.68,136.52 C533.79,138.49 539.72,139.21 549.94,140.86 C560.16,142.51 578.71,145.22 588.02,146.41 C597.33,147.6 599.45,146.71 605.8,147.98 C612.15,149.24 621.49,152.16 626.09,154.01 C630.69,155.86 631.49,157.62 633.39,159.07 C635.29,160.52 636.43,161.68 637.49,162.69 C638.56,163.69 639.39,164.7 639.77,165.1" fill="none" stroke="#1a88c8" stroke-width="1.25" stroke-linejoin="round" stroke-linecap="round"/>
<path d="M491.8,74.66 C491.85,77.27 491.88,85.57 492.07,90.31 C492.26,95.06 492.34,98.57 492.94,103.12 C493.54,107.66 493.28,112.84 495.68,117.58 C498.07,122.32 502.14,127.98 507.3,131.55 C512.47,135.12 519.58,137.24 526.68,139 C533.79,140.76 539.72,140.77 549.94,142.1 C560.16,143.43 578.71,145.92 588.02,146.99 C597.33,148.06 600.94,148.11 605.8,148.53 C610.66,148.94 613.17,148.56 617.2,149.48 C621.23,150.39 626.62,152.41 629.97,154.01 C633.31,155.61 635.36,157.62 637.26,159.07 C639.16,160.52 640.3,161.68 641.37,162.69 C642.43,163.69 643.27,164.7 643.65,165.1" fill="none" stroke="#b020f0" stroke-width="1.25" stroke-linejoin="round" stroke-linecap="round"/>
<path d="M491.8,78.28 C491.85,80.52 491.88,87.66 492.07,91.74 C492.26,95.82 492.34,98.51 492.94,102.76 C493.54,107 493.28,112.48 495.68,117.22 C498.07,121.96 502.14,127.62 507.3,131.18 C512.47,134.75 519.58,136.86 526.68,138.61 C533.79,140.37 539.72,140.37 549.94,141.7 C560.16,143.02 578.71,145.49 588.02,146.55 C597.33,147.62 600.94,147.67 605.8,148.08 C610.66,148.49 612.41,148.03 617.2,149.02 C621.99,150.01 630.42,152.33 634.53,154.01 C638.63,155.68 639.92,157.62 641.82,159.07 C643.72,160.52 644.86,161.68 645.93,162.69 C646.99,163.69 647.83,164.7 648.21,165.1" fill="none" stroke="#2222ff" stroke-width="1.25" stroke-linejoin="round" stroke-linecap="round"/>
<path d="M491.8,72.25 C491.85,75.1 491.88,84.17 492.07,89.36 C492.26,94.54 492.34,98.61 492.94,103.35 C493.54,108.1 493.28,113.08 495.68,117.81 C498.07,122.54 502.14,128.18 507.3,131.73 C512.47,135.27 519.58,137.36 526.68,139.08 C533.79,140.81 539.72,140.79 549.94,142.08 C560.16,143.36 578.71,145.76 588.02,146.79 C597.33,147.82 600.94,147.86 605.8,148.25 C610.66,148.65 611.65,148.19 617.2,149.15 C622.75,150.11 634.22,152.35 639.09,154.01 C643.95,155.66 644.48,157.62 646.38,159.07 C648.28,160.52 649.42,161.68 650.49,162.69 C651.55,163.69 652.39,164.7 652.77,165.1" fill="none" stroke="#ff2a35" stroke-width="1.25" stroke-linejoin="round" stroke-linecap="round"/>
<path d="M491.8,103.6 C491.85,103.45 491.88,102.96 492.07,102.68 C492.26,102.4 492.34,99.63 492.94,101.92 C493.54,104.2 493.28,111.65 495.68,116.4 C498.07,121.15 502.14,126.83 507.3,130.42 C512.47,134.01 519.58,136.16 526.68,137.95 C533.79,139.74 539.72,139.78 549.94,141.16 C560.16,142.54 578.71,145.1 588.02,146.22 C597.33,147.33 600.94,147.4 605.8,147.84 C610.66,148.28 610.82,148.05 617.2,148.84 C623.58,149.63 636.58,151.38 644.1,152.56 C651.63,153.74 657.97,154.65 662.34,155.94 C666.71,157.22 668.23,158.75 670.32,160.28 C672.41,161.8 674.12,164.3 674.88,165.1" fill="none" stroke="#111111" stroke-width="1.25" stroke-linejoin="round" stroke-linecap="round"/>
<path d="M491.8,159.07 C491.91,158.87 492.03,158.67 492.48,157.86 C492.94,157.06 493.36,155.35 494.54,154.25 C495.71,153.14 495.83,152.72 499.55,151.23 C503.28,149.75 511.33,146.73 516.88,145.32 C522.43,143.92 527.33,143.58 532.84,142.79 C538.35,142.01 545.38,141.22 549.94,140.62 C554.5,140.02 556.97,139.92 560.2,139.17 C563.43,138.43 566.66,137.27 569.32,136.16 C571.98,135.05 574.03,134.27 576.16,132.54 C578.29,130.81 580.64,127.66 582.09,125.79 C583.53,123.92 583.61,122.43 584.82,121.33 C586.04,120.22 586.8,119.94 589.38,119.16 C591.97,118.37 596.68,117.47 600.33,116.63 C603.98,115.78 607.97,115.14 611.27,114.09 C614.58,113.05 618.19,111.7 620.16,110.36 C622.14,109.01 622.44,108.57 623.13,106.01 C623.81,103.46 623.74,102.68 624.27,95.04 C624.8,87.4 625.52,72.63 626.32,60.19 C627.12,47.75 628.6,27.03 629.06,20.4" fill="none" stroke="#7a2630" stroke-width="1.25" stroke-linejoin="round" stroke-linecap="round"/>
<path d="M491.8,159.07 C491.91,158.87 492.03,158.67 492.48,157.86 C492.94,157.06 493.36,155.35 494.54,154.25 C495.71,153.14 495.83,152.72 499.55,151.23 C503.28,149.75 511.33,146.73 516.88,145.32 C522.43,143.92 527.33,143.58 532.84,142.79 C538.35,142.01 544.62,141.12 549.94,140.62 C555.26,140.12 560.77,140.22 564.76,139.78 C568.75,139.34 570.99,138.65 573.88,137.97 C576.77,137.29 578.9,136.98 582.09,135.68 C585.28,134.37 590.49,132.02 593.03,130.13 C595.58,128.24 596.15,126.05 597.36,124.34 C598.58,122.63 598.01,121.17 600.33,119.88 C602.65,118.6 607.74,117.95 611.27,116.63 C614.81,115.3 619.18,113.95 621.53,111.92 C623.89,109.89 624.65,107.26 625.41,104.45 C626.17,101.63 625.48,102.42 626.09,95.04 C626.7,87.67 628.22,72.63 629.06,60.19 C629.89,47.75 630.77,27.03 631.11,20.4" fill="none" stroke="#1a88c8" stroke-width="1.25" stroke-linejoin="round" stroke-linecap="round"/>
<path d="M491.8,159.07 C491.91,158.87 492.03,158.67 492.48,157.86 C492.94,157.06 493.36,155.35 494.54,154.25 C495.71,153.14 495.83,152.72 499.55,151.23 C503.28,149.75 511.33,146.73 516.88,145.32 C522.43,143.92 527.33,143.58 532.84,142.79 C538.35,142.01 544.62,141.12 549.94,140.62 C555.26,140.12 559.4,140.24 564.76,139.78 C570.12,139.32 575.55,139.19 582.09,137.85 C588.62,136.5 599.61,133.95 603.98,131.7 C608.35,129.45 607.09,126.55 608.31,124.34 C609.52,122.13 610.17,119.84 611.27,118.43 C612.37,117.03 613.21,116.87 614.92,115.9 C616.63,114.94 619.78,114.56 621.53,112.65 C623.28,110.74 624.61,107.38 625.41,104.45 C626.21,101.51 625.64,102.42 626.32,95.04 C627,87.67 628.52,72.63 629.51,60.19 C630.5,47.75 631.79,27.03 632.25,20.4" fill="none" stroke="#b020f0" stroke-width="1.25" stroke-linejoin="round" stroke-linecap="round"/>
<path d="M491.8,159.07 C491.91,158.87 492.03,158.67 492.48,157.86 C492.94,157.06 493.36,155.35 494.54,154.25 C495.71,153.14 495.83,152.72 499.55,151.23 C503.28,149.75 511.33,146.73 516.88,145.32 C522.43,143.92 527.33,143.58 532.84,142.79 C538.35,142.01 544.62,141.08 549.94,140.62 C555.26,140.16 559.4,140.3 564.76,140.02 C570.12,139.74 574.34,140.08 582.09,138.93 C589.84,137.79 605.53,135.22 611.27,133.15 C617.01,131.08 615.15,128.84 616.52,126.51 C617.88,124.18 618.53,121.47 619.48,119.16 C620.43,116.85 621.38,114.84 622.22,112.65 C623.05,110.46 623.85,108.95 624.5,106.01 C625.14,103.08 625.1,102.68 626.09,95.04 C627.08,87.4 629.28,72.63 630.42,60.19 C631.56,47.75 632.51,27.03 632.93,20.4" fill="none" stroke="#2222ff" stroke-width="1.25" stroke-linejoin="round" stroke-linecap="round"/>
<path d="M491.8,159.07 C491.91,158.87 492.03,158.67 492.48,157.86 C492.94,157.06 493.36,155.35 494.54,154.25 C495.71,153.14 495.83,152.72 499.55,151.23 C503.28,149.75 511.33,146.73 516.88,145.32 C522.43,143.92 527.33,143.58 532.84,142.79 C538.35,142.01 544.62,141.04 549.94,140.62 C555.26,140.2 559.4,140.4 564.76,140.26 C570.12,140.12 576.39,140.22 582.09,139.78 C587.79,139.34 593.49,138.47 598.96,137.61 C604.43,136.74 610.89,136.08 614.92,134.59 C618.95,133.11 621.27,131 623.13,128.68 C624.99,126.37 625.41,123.9 626.09,120.73 C626.78,117.55 626.97,113.91 627.23,109.63 C627.5,105.35 627.04,103.28 627.69,95.04 C628.33,86.8 629.85,72.63 631.11,60.19 C632.36,47.75 634.53,27.03 635.21,20.4" fill="none" stroke="#ff2a35" stroke-width="1.25" stroke-linejoin="round" stroke-linecap="round"/>
<path d="M491.8,159.07 C491.91,158.87 492.03,158.67 492.48,157.86 C492.94,157.06 493.36,155.35 494.54,154.25 C495.71,153.14 495.83,152.72 499.55,151.23 C503.28,149.75 511.33,146.73 516.88,145.32 C522.43,143.92 527.33,143.58 532.84,142.79 C538.35,142.01 544.62,141.06 549.94,140.62 C555.26,140.18 559.4,140.32 564.76,140.14 C570.12,139.96 576.39,140 582.09,139.54 C587.79,139.07 593.49,138.23 598.96,137.37 C604.43,136.5 610.93,135.66 614.92,134.35 C618.91,133.04 620.92,131.2 622.9,129.53 C624.88,127.86 625.9,126.45 626.78,124.34 C627.65,122.23 627.84,121.75 628.14,116.87 C628.45,111.98 627.95,104.49 628.6,95.04 C629.25,85.6 630.35,72.63 632.02,60.19 C633.69,47.75 637.53,27.03 638.63,20.4" fill="none" stroke="#111111" stroke-width="1.25" stroke-linejoin="round" stroke-linecap="round"/>
<g stroke="#222" stroke-width="0.8" fill="none"><path d="M580.6,73.4L593.3,67L605.6,73.4"/><path d="M592.5,60.5V67.5M594.2,60.5V67.5"/></g>
<text x="590.4" y="59.5" font-size="7.6" fill="#151515">O</text>
<text x="567.1" y="79.3" font-size="7.6" fill="#151515">H<tspan font-size="4.8" dy="1.6">3</tspan><tspan dy="-1.6">C</tspan></text>
<text x="605.6" y="79.3" font-size="7.6" fill="#151515">CH<tspan font-size="4.8" dy="1.6">3</tspan></text>
<path d="M572.9,34.5L584.2,50.8" stroke="#222" stroke-width="0.8" stroke-dasharray="1.3,1.3"/><path d="M586,53.5l-3.4,-1.6l2.7,-1.9z" fill="#222"/>
<rect x="29.4" y="198.8" width="192.3" height="154.9" fill="none" stroke="#2b2b2b" stroke-width="1.15"/>
<path d="M29.4,353.7v3M52.05,353.7v3M74.7,353.7v3M97.35,353.7v3M120,353.7v3M142.65,353.7v3M165.3,353.7v3M187.95,353.7v3M210.6,353.7v3M40.72,353.7v1.8M63.37,353.7v1.8M86.02,353.7v1.8M108.67,353.7v1.8M131.32,353.7v1.8M153.97,353.7v1.8M176.62,353.7v1.8M199.27,353.7v1.8M221.92,353.7v1.8M29.4,205h-3M29.4,252.57h-3M29.4,300.13h-3M29.4,347.7h-3M29.4,228.78h-1.8M29.4,276.35h-1.8M29.4,323.92h-1.8" stroke="#2b2b2b" stroke-width="1" fill="none"/>
<text x="29.4" y="364.6" font-size="8.5" text-anchor="middle" fill="#151515" letter-spacing="-0.3">0</text>
<text x="52.05" y="364.6" font-size="8.5" text-anchor="middle" fill="#151515" letter-spacing="-0.3">10</text>
<text x="74.7" y="364.6" font-size="8.5" text-anchor="middle" fill="#151515" letter-spacing="-0.3">20</text>
<text x="97.35" y="364.6" font-size="8.5" text-anchor="middle" fill="#151515" letter-spacing="-0.3">30</text>
<text x="120" y="364.6" font-size="8.5" text-anchor="middle" fill="#151515" letter-spacing="-0.3">40</text>
<text x="142.65" y="364.6" font-size="8.5" text-anchor="middle" fill="#151515" letter-spacing="-0.3">50</text>
<text x="165.3" y="364.6" font-size="8.5" text-anchor="middle" fill="#151515" letter-spacing="-0.3">60</text>
<text x="187.95" y="364.6" font-size="8.5" text-anchor="middle" fill="#151515" letter-spacing="-0.3">70</text>
<text x="210.6" y="364.6" font-size="8.5" text-anchor="middle" fill="#151515" letter-spacing="-0.3">80</text>
<text x="25.3" y="207.6" font-size="8.5" text-anchor="end" fill="#151515" letter-spacing="-0.1">0.0</text>
<text x="25.3" y="255.17" font-size="8.5" text-anchor="end" fill="#151515" letter-spacing="-0.1">-0.4</text>
<text x="25.3" y="302.73" font-size="8.5" text-anchor="end" fill="#151515" letter-spacing="-0.1">-0.8</text>
<text x="25.3" y="350.3" font-size="8.5" text-anchor="end" fill="#151515" letter-spacing="-0.1">-1.2</text>
<text transform="translate(7.4,278.3) rotate(-90)" text-anchor="middle" font-size="8.6" fill="#151515" textLength="94" lengthAdjust="spacingAndGlyphs">Potential versus Ag/AgCl (V)</text>
<text x="70.2" y="375.4" font-size="8.3" textLength="92.6" lengthAdjust="spacingAndGlyphs" fill="#151515">Specific capacity (mAh g<tspan font-size="5.2" dy="-3.2">-1</tspan><tspan dy="3.2">)</tspan></text>
<text x="33.1" y="207" font-size="8.2" textLength="124.5" lengthAdjust="spacingAndGlyphs" fill="#151515">MnHCC in 21 m KOTF + 1 m DHA</text>
<line x1="49" y1="225.9" x2="65.4" y2="225.9" stroke="#111111" stroke-width="1.45"/>
<text x="67.7" y="228.6" font-size="8.1" fill="#151515">1st</text>
<line x1="49" y1="235.2" x2="65.4" y2="235.2" stroke="#ff2a35" stroke-width="1.45"/>
<text x="67.7" y="237.9" font-size="8.1" fill="#151515">2nd</text>
<line x1="49" y1="244.4" x2="65.4" y2="244.4" stroke="#2222ff" stroke-width="1.45"/>
<text x="67.7" y="247.1" font-size="8.1" fill="#151515">3rd</text>
<line x1="49" y1="253.2" x2="65.4" y2="253.2" stroke="#b020f0" stroke-width="1.45"/>
<text x="67.7" y="255.9" font-size="8.1" fill="#151515">5th</text>
<line x1="49" y1="262.6" x2="65.4" y2="262.6" stroke="#1a88c8" stroke-width="1.45"/>
<text x="67.7" y="265.3" font-size="8.1" fill="#151515">10th</text>
<line x1="49" y1="271.4" x2="65.4" y2="271.4" stroke="#7a2630" stroke-width="1.45"/>
<text x="67.7" y="274.1" font-size="8.1" fill="#151515">20th</text>
<path d="M29.4,237.11 C29.45,239.07 29.56,245.31 29.67,248.88 C29.79,252.45 29.88,253.54 30.08,258.51 C30.28,263.49 30.29,271.2 30.89,278.73 C31.5,286.26 32.25,298.05 33.7,303.7 C35.15,309.35 36.91,310.16 39.59,312.62 C42.27,315.08 44.42,316.42 49.78,318.45 C55.15,320.47 63.22,323.04 71.76,324.75 C80.29,326.45 91.61,327.58 100.97,328.67 C110.34,329.76 120.23,330.66 127.93,331.29 C135.63,331.92 140.69,331.57 147.18,332.48 C153.67,333.39 162.39,335.21 166.89,336.76 C171.38,338.31 172.25,340.33 174.13,341.75 C176.02,343.18 177.15,344.33 178.21,345.32 C179.27,346.31 180.1,347.3 180.48,347.7" fill="none" stroke="#7a2630" stroke-width="1.25" stroke-linejoin="round" stroke-linecap="round"/>
<path d="M29.4,235.56 C29.45,237.67 29.56,244.36 29.67,248.18 C29.79,252.01 29.88,253.42 30.08,258.51 C30.28,263.6 30.29,271.2 30.89,278.73 C31.5,286.26 32.25,298.05 33.7,303.7 C35.15,309.35 36.91,310.16 39.59,312.62 C42.27,315.08 44.42,316.42 49.78,318.45 C55.15,320.47 63.22,323.04 71.76,324.75 C80.29,326.45 91.61,327.58 100.97,328.67 C110.34,329.76 120.23,330.66 127.93,331.29 C135.63,331.92 141.71,332.16 147.18,332.48 C152.65,332.8 156.96,332.48 160.77,333.19 C164.58,333.91 167.3,335.33 170.06,336.76 C172.81,338.19 175.42,340.33 177.3,341.75 C179.19,343.18 180.32,344.33 181.38,345.32 C182.44,346.31 183.27,347.3 183.65,347.7" fill="none" stroke="#1a88c8" stroke-width="1.25" stroke-linejoin="round" stroke-linecap="round"/>
<path d="M29.4,240.68 C29.45,242.31 29.56,247.51 29.67,250.49 C29.79,253.46 29.88,253.81 30.08,258.51 C30.28,263.22 30.29,271.2 30.89,278.73 C31.5,286.26 32.25,298.05 33.7,303.7 C35.15,309.35 36.91,310.16 39.59,312.62 C42.27,315.08 44.42,316.42 49.78,318.45 C55.15,320.47 63.22,323.04 71.76,324.75 C80.29,326.45 91.61,327.58 100.97,328.67 C110.34,329.76 120.23,330.66 127.93,331.29 C135.63,331.92 141.71,332.16 147.18,332.48 C152.65,332.8 156.32,332.48 160.77,333.19 C165.22,333.91 170.51,335.33 173.91,336.76 C177.3,338.19 179.27,340.33 181.15,341.75 C183.04,343.18 184.17,344.33 185.23,345.32 C186.29,346.31 187.12,347.3 187.5,347.7" fill="none" stroke="#b020f0" stroke-width="1.25" stroke-linejoin="round" stroke-linecap="round"/>
<path d="M29.4,238.3 C29.45,240.15 29.56,246.05 29.67,249.42 C29.79,252.78 29.88,253.63 30.08,258.51 C30.28,263.4 30.29,271.2 30.89,278.73 C31.5,286.26 32.25,298.05 33.7,303.7 C35.15,309.35 36.91,310.16 39.59,312.62 C42.27,315.08 44.42,316.42 49.78,318.45 C55.15,320.47 63.22,323.04 71.76,324.75 C80.29,326.45 91.61,327.58 100.97,328.67 C110.34,329.76 120.23,330.66 127.93,331.29 C135.63,331.92 141.71,332.16 147.18,332.48 C152.65,332.8 155.82,332.48 160.77,333.19 C165.72,333.91 172.96,335.33 176.85,336.76 C180.74,338.19 182.21,340.33 184.1,341.75 C185.99,343.18 187.12,344.33 188.18,345.32 C189.23,346.31 190.06,347.3 190.44,347.7" fill="none" stroke="#2222ff" stroke-width="1.25" stroke-linejoin="round" stroke-linecap="round"/>
<path d="M29.4,246.62 C29.45,247.71 29.56,251.18 29.67,253.16 C29.79,255.14 29.88,254.25 30.08,258.51 C30.28,262.77 30.29,271.2 30.89,278.73 C31.5,286.26 32.25,298.05 33.7,303.7 C35.15,309.35 36.91,310.16 39.59,312.62 C42.27,315.08 44.42,316.42 49.78,318.45 C55.15,320.47 63.22,323.04 71.76,324.75 C80.29,326.45 91.61,327.58 100.97,328.67 C110.34,329.76 120.23,330.66 127.93,331.29 C135.63,331.92 141.71,332.16 147.18,332.48 C152.65,332.8 155.3,332.48 160.77,333.19 C166.24,333.91 175.61,335.33 180.02,336.76 C184.44,338.19 185.38,340.33 187.27,341.75 C189.16,343.18 190.29,344.33 191.35,345.32 C192.4,346.31 193.23,347.3 193.61,347.7" fill="none" stroke="#ff2a35" stroke-width="1.25" stroke-linejoin="round" stroke-linecap="round"/>
<path d="M29.4,277.54 C29.45,275.8 29.56,270.25 29.67,267.07 C29.79,263.9 29.88,256.57 30.08,258.51 C30.28,260.45 30.29,271.2 30.89,278.73 C31.5,286.26 32.25,298.05 33.7,303.7 C35.15,309.35 36.91,310.16 39.59,312.62 C42.27,315.08 44.42,316.42 49.78,318.45 C55.15,320.47 63.22,323.04 71.76,324.75 C80.29,326.45 91.61,327.58 100.97,328.67 C110.34,329.76 120.23,330.66 127.93,331.29 C135.63,331.92 141.71,332.16 147.18,332.48 C152.65,332.8 154.69,332.72 160.77,333.19 C166.85,333.67 176.81,334.42 183.65,335.33 C190.48,336.24 197.43,337.39 201.77,338.66 C206.11,339.93 207.62,341.44 209.69,342.94 C211.77,344.45 213.47,346.91 214.22,347.7" fill="none" stroke="#111111" stroke-width="1.25" stroke-linejoin="round" stroke-linecap="round"/>
<path d="M29.4,343.18 C29.59,342.75 29.82,341.52 30.53,340.56 C31.25,339.61 31.7,338.86 33.7,337.47 C35.7,336.09 38.61,333.61 42.54,332.24 C46.46,330.87 51.18,330.1 57.26,329.27 C63.34,328.44 71.72,327.94 79,327.25 C86.29,326.55 92.82,325.98 100.97,325.11 C109.13,324.23 121.43,322.99 127.93,322.01 C134.42,321.04 135.48,320.29 139.93,319.28 C144.39,318.27 150.43,317.3 154.65,315.95 C158.88,314.6 162.85,312.9 165.3,311.19 C167.75,309.49 168.4,307.86 169.38,305.72 C170.36,303.58 170.7,301.42 171.19,298.35 C171.68,295.28 172.09,290.34 172.32,287.29 C172.55,284.24 171.98,293.75 172.55,280.04 C173.11,266.32 175.19,217.51 175.72,205" fill="none" stroke="#7a2630" stroke-width="1.25" stroke-linejoin="round" stroke-linecap="round"/>
<path d="M29.4,343.18 C29.59,342.75 29.82,341.52 30.53,340.56 C31.25,339.61 31.7,338.86 33.7,337.47 C35.7,336.09 38.61,333.61 42.54,332.24 C46.46,330.87 51.18,330.1 57.26,329.27 C63.34,328.44 71.72,327.94 79,327.25 C86.29,326.55 92.82,325.98 100.97,325.11 C109.13,324.23 121.43,322.99 127.93,322.01 C134.42,321.04 135.48,320.29 139.93,319.28 C144.39,318.27 150.43,317.3 154.65,315.95 C158.88,314.6 162.7,312.94 165.3,311.19 C167.9,309.45 169.11,307.63 170.28,305.48 C171.45,303.34 171.83,301.38 172.32,298.35 C172.81,295.32 173,290.34 173.23,287.29 C173.45,284.24 172.96,293.75 173.68,280.04 C174.4,266.32 176.89,217.51 177.53,205" fill="none" stroke="#1a88c8" stroke-width="1.25" stroke-linejoin="round" stroke-linecap="round"/>
<path d="M29.4,343.18 C29.59,342.75 29.82,341.52 30.53,340.56 C31.25,339.61 31.7,338.86 33.7,337.47 C35.7,336.09 38.61,333.61 42.54,332.24 C46.46,330.87 51.18,330.1 57.26,329.27 C63.34,328.44 71.72,327.94 79,327.25 C86.29,326.55 92.82,325.98 100.97,325.11 C109.13,324.23 121.43,322.99 127.93,322.01 C134.42,321.04 135.48,320.29 139.93,319.28 C144.39,318.27 150.43,317.3 154.65,315.95 C158.88,314.6 162.54,312.98 165.3,311.19 C168.06,309.41 169.87,307.39 171.19,305.25 C172.51,303.11 172.74,301.34 173.23,298.35 C173.72,295.36 173.91,290.34 174.13,287.29 C174.36,284.24 173.91,293.75 174.59,280.04 C175.27,266.32 177.61,217.51 178.21,205" fill="none" stroke="#b020f0" stroke-width="1.25" stroke-linejoin="round" stroke-linecap="round"/>
<path d="M29.4,343.18 C29.59,342.75 29.82,341.52 30.53,340.56 C31.25,339.61 31.7,338.86 33.7,337.47 C35.7,336.09 38.61,333.61 42.54,332.24 C46.46,330.87 51.18,330.1 57.26,329.27 C63.34,328.44 71.72,327.94 79,327.25 C86.29,326.55 92.82,325.98 100.97,325.11 C109.13,324.23 121.43,322.99 127.93,322.01 C134.42,321.04 135.48,320.29 139.93,319.28 C144.39,318.27 150.43,317.3 154.65,315.95 C158.88,314.6 162.39,313.04 165.3,311.19 C168.21,309.35 170.62,307.03 172.09,304.89 C173.57,302.75 173.68,301.28 174.13,298.35 C174.59,295.42 174.62,290.34 174.81,287.29 C175,284.24 174.62,293.75 175.27,280.04 C175.91,266.32 178.1,217.51 178.66,205" fill="none" stroke="#2222ff" stroke-width="1.25" stroke-linejoin="round" stroke-linecap="round"/>
<path d="M29.4,343.18 C29.59,342.75 29.82,341.52 30.53,340.56 C31.25,339.61 31.7,338.86 33.7,337.47 C35.7,336.09 38.61,333.61 42.54,332.24 C46.46,330.87 51.18,330.1 57.26,329.27 C63.34,328.44 71.72,327.94 79,327.25 C86.29,326.55 92.82,325.98 100.97,325.11 C109.13,324.23 121.43,322.99 127.93,322.01 C134.42,321.04 135.48,320.29 139.93,319.28 C144.39,318.27 150.43,317.3 154.65,315.95 C158.88,314.6 162.66,312.94 165.3,311.19 C167.94,309.45 169.3,307.63 170.51,305.48 C171.72,303.34 172.02,301.38 172.55,298.35 C173.08,295.32 173.42,290.34 173.68,287.29 C173.94,284.24 173.45,293.75 174.13,280.04 C174.81,266.32 177.15,217.51 177.76,205" fill="none" stroke="#ff2a35" stroke-width="1.25" stroke-linejoin="round" stroke-linecap="round"/>
<path d="M29.4,343.18 C29.59,342.75 29.82,341.52 30.53,340.56 C31.25,339.61 31.7,338.86 33.7,337.47 C35.7,336.09 38.61,333.61 42.54,332.24 C46.46,330.87 51.18,330.1 57.26,329.27 C63.34,328.44 71.72,327.94 79,327.25 C86.29,326.55 92.82,325.98 100.97,325.11 C109.13,324.23 121.43,322.99 127.93,322.01 C134.42,321.04 135.48,320.29 139.93,319.28 C144.39,318.27 150.43,317.3 154.65,315.95 C158.88,314.6 162.77,312.92 165.3,311.19 C167.83,309.47 168.74,307.74 169.83,305.6 C170.92,303.46 171.34,301.4 171.87,298.35 C172.4,295.3 172.77,290.34 173,287.29 C173.23,284.24 172.55,293.75 173.23,280.04 C173.91,266.32 176.44,217.51 177.08,205" fill="none" stroke="#111111" stroke-width="1.25" stroke-linejoin="round" stroke-linecap="round"/>
<path d="M29.9,323.6H161.5" stroke="#555" stroke-width="1" stroke-dasharray="3,2"/><path d="M165,323.6l-4.5,-2.3v4.6z" fill="#222"/>
<text x="166.7" y="329" font-size="7.8" textLength="22.3" lengthAdjust="spacingAndGlyphs" fill="#151515">-1.0 V</text>
<rect x="103.4" y="292.3" width="76.4" height="28.8" fill="none" stroke="#ff3b1f" stroke-width="1" stroke-dasharray="2.4,1.8"/>
<text x="36.8" y="287.4" font-size="7.8" textLength="98.1" lengthAdjust="spacingAndGlyphs" fill="#151515">Free of the second plateau</text>
<path d="M101.7,301.6L91.5,292.6" stroke="#ff2a10" stroke-width="2.2"/><path d="M87.6,289.4l7.8,1.6l-3.6,4.8z" fill="#ff2a10"/>
<g stroke="#222" stroke-width="0.8" fill="none"><path d="M132.3,245.2L137.8,249.3L147.1,242.9L156.5,249.3L160.6,245.3"/><path d="M146.3,243V236.9M147.9,243V236.9"/></g>
<text x="121.4" y="245.5" font-size="7.6" fill="#151515">HO</text>
<text x="160" y="245.5" font-size="7.6" fill="#151515">OH</text>
<text x="144.4" y="236.1" font-size="7.6" fill="#151515">O</text>
<path d="M151.3,208.8L148.6,224" stroke="#222" stroke-width="0.8" stroke-dasharray="1.3,1.3"/><path d="M148.2,227.3l-1.4,-3.6l3.2,0.5z" fill="#222"/>
<rect x="282.3" y="261.5" width="158.2" height="91.7" fill="#b4def8"/>
<rect x="290.9" y="261.5" width="139.2" height="25.9" fill="#dbaaa6"/>
<rect x="260.6" y="198.5" width="193.7" height="154.7" fill="none" stroke="#2b2b2b" stroke-width="1.15"/>
<path d="M271.5,353.2v3M298.5,353.2v3M325.5,353.2v3M352.5,353.2v3M379.5,353.2v3M406.5,353.2v3M433.5,353.2v3M285,353.2v1.8M312,353.2v1.8M339,353.2v1.8M366,353.2v1.8M393,353.2v1.8M420,353.2v1.8M447,353.2v1.8M260.6,198.49h-3M260.6,224.26h-3M260.6,250.03h-3M260.6,275.8h-3M260.6,301.57h-3M260.6,327.34h-3M260.6,353.11h-3M260.6,211.38h-1.8M260.6,237.14h-1.8M260.6,262.92h-1.8M260.6,288.69h-1.8M260.6,314.46h-1.8M260.6,340.23h-1.8" stroke="#2b2b2b" stroke-width="1" fill="none"/>
<text x="271.5" y="364.3" font-size="8.5" text-anchor="middle" fill="#151515" letter-spacing="-0.3">-1.5</text>
<text x="298.5" y="364.3" font-size="8.5" text-anchor="middle" fill="#151515" letter-spacing="-0.3">-1.0</text>
<text x="325.5" y="364.3" font-size="8.5" text-anchor="middle" fill="#151515" letter-spacing="-0.3">-0.5</text>
<text x="352.5" y="364.3" font-size="8.5" text-anchor="middle" fill="#151515" letter-spacing="-0.3">0.0</text>
<text x="379.5" y="364.3" font-size="8.5" text-anchor="middle" fill="#151515" letter-spacing="-0.3">0.5</text>
<text x="406.5" y="364.3" font-size="8.5" text-anchor="middle" fill="#151515" letter-spacing="-0.3">1.0</text>
<text x="433.5" y="364.3" font-size="8.5" text-anchor="middle" fill="#151515" letter-spacing="-0.3">1.5</text>
<text x="256.5" y="201.09" font-size="8.5" text-anchor="end" fill="#151515" letter-spacing="-0.1">3</text>
<text x="256.5" y="226.86" font-size="8.5" text-anchor="end" fill="#151515" letter-spacing="-0.1">2</text>
<text x="256.5" y="252.63" font-size="8.5" text-anchor="end" fill="#151515" letter-spacing="-0.1">1</text>
<text x="256.5" y="278.4" font-size="8.5" text-anchor="end" fill="#151515" letter-spacing="-0.1">0</text>
<text x="256.5" y="304.17" font-size="8.5" text-anchor="end" fill="#151515" letter-spacing="-0.1">-1</text>
<text x="256.5" y="329.94" font-size="8.5" text-anchor="end" fill="#151515" letter-spacing="-0.1">-2</text>
<text x="256.5" y="355.71" font-size="8.5" text-anchor="end" fill="#151515" letter-spacing="-0.1">-3</text>
<text transform="translate(240,263.4) rotate(-90)" text-anchor="middle" font-size="8.2" fill="#151515">Current (mA cm<tspan font-size="5.4" dy="-3.2">-2</tspan><tspan dy="3.2">)</tspan></text>
<text x="314" y="376" font-size="8.3" textLength="95.6" lengthAdjust="spacingAndGlyphs" fill="#151515">Potential versus Ag/AgCl (V)</text>
<line x1="280.6" y1="213.9" x2="297.8" y2="213.9" stroke="#ff1a1a" stroke-width="1.3"/>
<line x1="280.6" y1="222.5" x2="297.8" y2="222.5" stroke="#1a1aff" stroke-width="1.3"/>
<text x="299.7" y="216.6" font-size="7.6" textLength="39.3" lengthAdjust="spacingAndGlyphs" fill="#151515">21 m KOTF</text>
<text x="299.7" y="225.2" font-size="7.6" textLength="78.3" lengthAdjust="spacingAndGlyphs" fill="#151515">21 m KOTF + 1 m DHA</text>
<path d="M292,258.2H429.2" stroke="#222" stroke-width="0.9"/><path d="M291.4,258.2l3.6,-1.6v3.2zM429.8,258.2l-3.6,-1.6v3.2z" fill="#222"/>
<path d="M291.1,256V261.5M430.1,256V261.5" stroke="#ff1a1a" stroke-width="1"/>
<text x="293.9" y="256.4" font-size="7.8" textLength="26.4" lengthAdjust="spacingAndGlyphs" fill="#151515">-1.15 V</text>
<text x="346.9" y="256.4" font-size="7.8" textLength="23.4" lengthAdjust="spacingAndGlyphs" fill="#151515">2.60 V</text>
<text x="403.7" y="256.4" font-size="7.8" textLength="23.4" lengthAdjust="spacingAndGlyphs" fill="#151515">1.45 V</text>
<path d="M283.5,314.4H439.5" stroke="#222" stroke-width="0.9"/><path d="M282.8,314.4l3.8,-1.7v3.4zM440.2,314.4l-3.8,-1.7v3.4z" fill="#222"/>
<text x="284.9" y="331.5" font-size="7.8" textLength="26.2" lengthAdjust="spacingAndGlyphs" fill="#151515">-1.30 V</text>
<text x="344.2" y="331.5" font-size="7.8" textLength="30.2" lengthAdjust="spacingAndGlyphs" fill="#151515">~2.95 V</text>
<text x="415.4" y="331.5" font-size="7.8" textLength="23" lengthAdjust="spacingAndGlyphs" fill="#151515">1.65 V</text>
<clipPath id="ce"><rect x="260.6" y="198.5" width="193.7" height="154.7"/></clipPath>
<g clip-path="url(#ce)"><path d="M267.29,355.69 C267.56,352.25 268.32,341.51 268.91,335.07 C269.49,328.63 270.08,322.4 270.8,317.03 C271.52,311.66 272.35,306.34 273.23,302.86 C274.11,299.38 275.06,297.9 276.09,296.16 C277.12,294.42 278.17,293.67 279.38,292.42 C280.6,291.18 281.48,289.82 283.38,288.69 C285.28,287.55 287.69,286.62 290.78,285.59 C293.87,284.56 296.12,283.62 301.9,282.5 C307.69,281.38 316.62,280.1 325.5,278.89 C334.38,277.69 345.12,276.4 355.2,275.28 C365.28,274.17 376.98,273.44 385.98,272.19 C394.98,270.95 402.05,269.57 409.2,267.81 C416.35,266.05 423.96,263.39 428.91,261.63 C433.86,259.87 436.42,259.09 438.9,257.25 C441.38,255.4 442.47,254.5 443.76,250.55 C445.05,246.59 445.77,240.24 446.62,233.54 C447.48,226.84 448.2,216.61 448.89,210.34 C449.58,204.07 450.46,198.32 450.78,195.91" fill="none" stroke="#ff1a1a" stroke-width="1.3" stroke-linejoin="round" stroke-linecap="round"/><path d="M267.83,355.69 C268.11,352.25 268.91,341.51 269.5,335.07 C270.1,328.63 270.67,322.4 271.39,317.03 C272.11,311.66 272.95,306.51 273.82,302.86 C274.69,299.21 275.7,297.27 276.63,295.13 C277.56,292.98 278.26,291.39 279.38,289.97 C280.51,288.56 281.48,287.7 283.38,286.62 C285.28,285.55 287.69,284.52 290.78,283.53 C293.87,282.54 296.12,281.64 301.9,280.7 C307.69,279.75 316.62,278.68 325.5,277.86 C334.38,277.05 345.12,276.4 355.2,275.8 C365.28,275.2 376.98,275.11 385.98,274.25 C394.98,273.39 402.05,272.15 409.2,270.65 C416.35,269.14 423.69,266.69 428.91,265.23 C434.13,263.77 437.68,263.86 440.52,261.88 C443.36,259.91 444.66,258.1 445.92,253.38 C447.18,248.66 447.36,240.71 448.08,233.54 C448.8,226.36 449.56,216.61 450.24,210.34 C450.92,204.07 451.81,198.32 452.13,195.91" fill="none" stroke="#1a1aff" stroke-width="1.3" stroke-linejoin="round" stroke-linecap="round"/></g>

<defs>
<linearGradient id="gGray1" x1="0" y1="0" x2="0" y2="1"><stop offset="0" stop-color="#6c6c6c"/><stop offset="0.5" stop-color="#5a5a5a"/><stop offset="1" stop-color="#4c4c4c"/></linearGradient>
<linearGradient id="gGray2" x1="0" y1="0" x2="0" y2="1"><stop offset="0" stop-color="#1a1a1a"/><stop offset="0.35" stop-color="#4a4a4a"/><stop offset="0.7" stop-color="#525252"/><stop offset="1" stop-color="#444"/></linearGradient>
<radialGradient id="gGlow" cx="0.5" cy="0.5" r="0.5"><stop offset="0" stop-color="#b0b0b0" stop-opacity="0.75"/><stop offset="0.5" stop-color="#606060" stop-opacity="0.45"/><stop offset="1" stop-color="#202020" stop-opacity="0"/></radialGradient>
<radialGradient id="gCore" cx="0.5" cy="0.5" r="0.5"><stop offset="0" stop-color="#ffffff" stop-opacity="1"/><stop offset="0.6" stop-color="#dddddd" stop-opacity="0.7"/><stop offset="1" stop-color="#888" stop-opacity="0"/></radialGradient>
<radialGradient id="gSheen" cx="0.5" cy="0.5" r="0.5"><stop offset="0" stop-color="#5a5a5a" stop-opacity="0.6"/><stop offset="1" stop-color="#202020" stop-opacity="0"/></radialGradient>
</defs>
<rect x="501.6" y="253" width="175.2" height="20.3" fill="url(#gGray1)"/>
<path d="M501.6,255.2 L560,256.9 L620,257.8 L676.8,258.6" stroke="#bdbdbd" stroke-width="1.1" fill="none" opacity="0.85"/>
<path d="M501.6,248.1 L550,249.3 L628,250.4 L676.8,251.3 L676.8,257.6 L620,257.0 L560,256.1 L501.6,254.3 Z" fill="#0e0e0e"/>
<path d="M550.7,250 A42.52,42.52 0 0 1 628.1,250 Z" fill="#0c0c0c"/>
<ellipse cx="589.5" cy="244.5" rx="17" ry="8" fill="url(#gGlow)"/>
<ellipse cx="566" cy="241" rx="3" ry="8" fill="url(#gSheen)"/>
<ellipse cx="612" cy="241" rx="3" ry="7" fill="url(#gSheen)"/>
<ellipse cx="589.8" cy="248.4" rx="8" ry="3.6" fill="url(#gCore)"/>
<path d="M551.6,249.7H628" stroke="#1fc6c6" stroke-width="1.8" stroke-dasharray="3.5,2.5"/>
<path d="M550.9,248.5L565.3,213.1M627.8,248.5L612.6,213.1" stroke="#111" stroke-width="1.2" stroke-dasharray="2.6,1.6"/>
<text x="581.4" y="213.1" font-size="7.9" textLength="18.9" lengthAdjust="spacingAndGlyphs" fill="#151515">67.8°</text>
<text x="569.7" y="266.6" font-size="8.3" textLength="42.9" lengthAdjust="spacingAndGlyphs" fill="#f0f0f0">21 m KOTF</text>
<rect x="501.8" y="331" width="175.7" height="18.6" fill="url(#gGray2)"/>
<path d="M600,334.6 L640,334.2 L677.5,334.0" stroke="#8c8c8c" stroke-width="1.4" fill="none" opacity="0.8"/>
<path d="M501.8,329.6 L600,329.3 Q640,328.8 677.5,328.1 L677.5,333.2 L620,333.6 L501.8,334.2 Z" fill="#0e0e0e"/>
<path d="M548.8,329.5 A41.97,41.97 0 0 1 628.3,329.5 Z" fill="#0c0c0c"/>
<ellipse cx="588.5" cy="324" rx="17" ry="8.5" fill="url(#gGlow)"/>
<ellipse cx="566" cy="320" rx="3" ry="8" fill="url(#gSheen)"/>
<ellipse cx="611" cy="320" rx="3" ry="7" fill="url(#gSheen)"/>
<ellipse cx="588.4" cy="327.6" rx="8.5" ry="4.5" fill="url(#gCore)"/>
<path d="M549.6,329.4H628" stroke="#1fc6c6" stroke-width="1.8" stroke-dasharray="3.5,2.5"/>
<path d="M548.8,328.5L560.3,292.5M627.8,328.5L617,292.5" stroke="#111" stroke-width="1.2" stroke-dasharray="2.6,1.6"/>
<text x="579.9" y="293.4" font-size="7.9" textLength="20.4" lengthAdjust="spacingAndGlyphs" fill="#151515">72.6°</text>
<text x="548" y="343.7" font-size="8.3" textLength="84.7" lengthAdjust="spacingAndGlyphs" fill="#f0f0f0">21 m KOTF + 1 m DHA</text>
<text x="645" y="293.4" font-size="7.9" textLength="29.2" lengthAdjust="spacingAndGlyphs" fill="#151515">MnHCC</text>
<path d="M652.9,253.4L660.4,275.8" stroke="#1a1a1a" stroke-width="1.2" stroke-dasharray="1.5,1.2"/><path d="M661.7,279.7l-3.4,-3.3l3.8,-1.2z" fill="#1a1a1a"/>
<path d="M652,327.8L659.6,306.4" stroke="#1a1a1a" stroke-width="1.2" stroke-dasharray="1.5,1.2"/><path d="M661.1,302.5l0.3,4.6l-3.7,-1.3z" fill="#1a1a1a"/>
<rect x="491.4" y="198.5" width="192.8" height="155.2" fill="none" stroke="#2233f5" stroke-width="1.6" stroke-dasharray="3.6,3.2"/>

<defs>
<radialGradient id="gN" cx="0.38" cy="0.35" r="0.7"><stop offset="0" stop-color="#bfe4ff"/><stop offset="0.35" stop-color="#4aa6f0"/><stop offset="1" stop-color="#1f6fd0"/></radialGradient>
<radialGradient id="gOi" cx="0.38" cy="0.35" r="0.7"><stop offset="0" stop-color="#ff9a9a"/><stop offset="0.4" stop-color="#f43434"/><stop offset="1" stop-color="#d01515"/></radialGradient>
<radialGradient id="gCO" cx="0.38" cy="0.35" r="0.7"><stop offset="0" stop-color="#ffc0b0"/><stop offset="0.45" stop-color="#f7806c"/><stop offset="1" stop-color="#e05f4c"/></radialGradient>
<radialGradient id="gK" cx="0.4" cy="0.38" r="0.7"><stop offset="0" stop-color="#9a55d0"/><stop offset="0.5" stop-color="#7d30b8"/><stop offset="1" stop-color="#5e1d94"/></radialGradient>
<radialGradient id="gMn" cx="0.4" cy="0.35" r="0.7"><stop offset="0" stop-color="#e2a6ff"/><stop offset="0.4" stop-color="#b04cf0"/><stop offset="1" stop-color="#8f2cd6"/></radialGradient>
<radialGradient id="gCr" cx="0.4" cy="0.35" r="0.7"><stop offset="0" stop-color="#fde2bc"/><stop offset="0.45" stop-color="#f0b26a"/><stop offset="1" stop-color="#dc9a52"/></radialGradient>
<radialGradient id="gC" cx="0.4" cy="0.35" r="0.7"><stop offset="0" stop-color="#e4e4e4"/><stop offset="0.45" stop-color="#b0b0b0"/><stop offset="1" stop-color="#8e8e8e"/></radialGradient>
<radialGradient id="gNl" cx="0.4" cy="0.35" r="0.7"><stop offset="0" stop-color="#cfe6ff"/><stop offset="0.45" stop-color="#62aaf6"/><stop offset="1" stop-color="#3c8ae6"/></radialGradient>
<radialGradient id="gH" cx="0.4" cy="0.35" r="0.7"><stop offset="0" stop-color="#ffffff"/><stop offset="0.5" stop-color="#ddd3db"/><stop offset="1" stop-color="#bcb0ba"/></radialGradient>
<radialGradient id="gBub" cx="0.5" cy="0.5" r="0.5"><stop offset="0" stop-color="#ffffff"/><stop offset="0.8" stop-color="#fcfeff"/><stop offset="0.95" stop-color="#eefcfd"/><stop offset="1" stop-color="#e0f9fc"/></radialGradient>
<linearGradient id="gArO" x1="0" y1="0" x2="1" y2="0"><stop offset="0" stop-color="#ff2a00"/><stop offset="1" stop-color="#ffd000"/></linearGradient>
<linearGradient id="gArO2" x1="1" y1="0" x2="0" y2="0"><stop offset="0" stop-color="#ff2a00"/><stop offset="1" stop-color="#ffd000"/></linearGradient>
<linearGradient id="gArB" x1="0" y1="0" x2="1" y2="0"><stop offset="0" stop-color="#1a3fe0"/><stop offset="1" stop-color="#7fe0ff"/></linearGradient>
<linearGradient id="gArB2" x1="1" y1="0" x2="0" y2="0"><stop offset="0" stop-color="#1a3fe0"/><stop offset="1" stop-color="#7fe0ff"/></linearGradient>
<g id="latBase"><path d="M0,-17.6L14,-3L0,9.5L-14,-3Z" fill="#c09a42" stroke="#9a48d0" stroke-width="0.6"/><path d="M0,-12.4L0,0L-12.5,0Z" fill="#8e2fbc" stroke="#8e2fbc" stroke-width="0.3"/><path d="M0,-12.4L12.5,0L0,0Z" fill="#8a2db6" stroke="#8a2db6" stroke-width="0.3"/><path d="M-12.5,0L0,0L0,11.8Z" fill="#8329ad" stroke="#8329ad" stroke-width="0.3"/><path d="M0,0L12.5,0L0,11.8Z" fill="#7d27a6" stroke="#7d27a6" stroke-width="0.3"/><path d="M-11.5,0H11.5M0,-11.4V10.8" stroke="#a866d4" stroke-width="0.45" opacity="0.8"/><path d="M33.5,-18.6L47.3,-5L33.5,7.5L19.7,-5Z" fill="#c9a24c" stroke="#b48cd8" stroke-width="0.5"/><path d="M33.5,-14.5L33.5,0L19.5,0Z" fill="#ba8d2e" stroke="#ba8d2e" stroke-width="0.3"/><path d="M33.5,-14.5L47.5,0L33.5,0Z" fill="#b8892c" stroke="#b8892c" stroke-width="0.3"/><path d="M19.5,0L33.5,0L33.5,12.9Z" fill="#b0842b" stroke="#b0842b" stroke-width="0.3"/><path d="M33.5,0L47.5,0L33.5,12.9Z" fill="#a97e28" stroke="#a97e28" stroke-width="0.3"/><path d="M20.5,-1L33.5,-14.5L46.5,-1" fill="none" stroke="#a050dc" stroke-width="0.55"/><path d="M20.5,0H46.5M33.5,-13.5V11.9" stroke="#d4b36a" stroke-width="0.45" opacity="0.8"/><path d="M67,-17.6L81,-3L67,9.5L53,-3Z" fill="#c09a42" stroke="#9a48d0" stroke-width="0.6"/><path d="M67,-12.4L67,0L54.5,0Z" fill="#8e2fbc" stroke="#8e2fbc" stroke-width="0.3"/><path d="M67,-12.4L79.5,0L67,0Z" fill="#8a2db6" stroke="#8a2db6" stroke-width="0.3"/><path d="M54.5,0L67,0L67,11.8Z" fill="#8329ad" stroke="#8329ad" stroke-width="0.3"/><path d="M67,0L79.5,0L67,11.8Z" fill="#7d27a6" stroke="#7d27a6" stroke-width="0.3"/><path d="M55.5,0H78.5M67,-11.4V10.8" stroke="#a866d4" stroke-width="0.45" opacity="0.8"/><path d="M100.5,-18.6L114.3,-5L100.5,7.5L86.7,-5Z" fill="#c9a24c" stroke="#b48cd8" stroke-width="0.5"/><path d="M100.5,-14.5L100.5,0L86.5,0Z" fill="#ba8d2e" stroke="#ba8d2e" stroke-width="0.3"/><path d="M100.5,-14.5L114.5,0L100.5,0Z" fill="#b8892c" stroke="#b8892c" stroke-width="0.3"/><path d="M86.5,0L100.5,0L100.5,12.9Z" fill="#b0842b" stroke="#b0842b" stroke-width="0.3"/><path d="M100.5,0L114.5,0L100.5,12.9Z" fill="#a97e28" stroke="#a97e28" stroke-width="0.3"/><path d="M87.5,-1L100.5,-14.5L113.5,-1" fill="none" stroke="#a050dc" stroke-width="0.55"/><path d="M87.5,0H113.5M100.5,-13.5V11.9" stroke="#d4b36a" stroke-width="0.45" opacity="0.8"/><path d="M134,-17.6L148,-3L134,9.5L120,-3Z" fill="#c09a42" stroke="#9a48d0" stroke-width="0.6"/><path d="M134,-12.4L134,0L121.5,0Z" fill="#8e2fbc" stroke="#8e2fbc" stroke-width="0.3"/><path d="M134,-12.4L146.5,0L134,0Z" fill="#8a2db6" stroke="#8a2db6" stroke-width="0.3"/><path d="M121.5,0L134,0L134,11.8Z" fill="#8329ad" stroke="#8329ad" stroke-width="0.3"/><path d="M134,0L146.5,0L134,11.8Z" fill="#7d27a6" stroke="#7d27a6" stroke-width="0.3"/><path d="M122.5,0H145.5M134,-11.4V10.8" stroke="#a866d4" stroke-width="0.45" opacity="0.8"/><path d="M0,14.8L13.8,28.4L0,40.9L-13.8,28.4Z" fill="#c9a24c" stroke="#b48cd8" stroke-width="0.5"/><path d="M0,18.9L0,33.4L-14,33.4Z" fill="#ba8d2e" stroke="#ba8d2e" stroke-width="0.3"/><path d="M0,18.9L14,33.4L0,33.4Z" fill="#b8892c" stroke="#b8892c" stroke-width="0.3"/><path d="M-14,33.4L0,33.4L0,46.3Z" fill="#b0842b" stroke="#b0842b" stroke-width="0.3"/><path d="M0,33.4L14,33.4L0,46.3Z" fill="#a97e28" stroke="#a97e28" stroke-width="0.3"/><path d="M-13,32.4L0,18.9L13,32.4" fill="none" stroke="#a050dc" stroke-width="0.55"/><path d="M-13,33.4H13M0,19.9V45.3" stroke="#d4b36a" stroke-width="0.45" opacity="0.8"/><path d="M33.5,15.8L47.5,30.4L33.5,42.9L19.5,30.4Z" fill="#c09a42" stroke="#9a48d0" stroke-width="0.6"/><path d="M33.5,21L33.5,33.4L21,33.4Z" fill="#8e2fbc" stroke="#8e2fbc" stroke-width="0.3"/><path d="M33.5,21L46,33.4L33.5,33.4Z" fill="#8a2db6" stroke="#8a2db6" stroke-width="0.3"/><path d="M21,33.4L33.5,33.4L33.5,45.2Z" fill="#8329ad" stroke="#8329ad" stroke-width="0.3"/><path d="M33.5,33.4L46,33.4L33.5,45.2Z" fill="#7d27a6" stroke="#7d27a6" stroke-width="0.3"/><path d="M22,33.4H45M33.5,22V44.2" stroke="#a866d4" stroke-width="0.45" opacity="0.8"/><path d="M67,15.8L81,30.4L67,42.9L53,30.4Z" fill="#c09a42" stroke="#9a48d0" stroke-width="0.6"/><path d="M67,21L67,33.4L54.5,33.4Z" fill="#9440c4" stroke="#9440c4" stroke-width="0.3"/><path d="M67,21L79.5,33.4L67,33.4Z" fill="#9240c0" stroke="#9240c0" stroke-width="0.3"/><path d="M54.5,33.4L67,33.4L67,45.2Z" fill="#8b3bb8" stroke="#8b3bb8" stroke-width="0.3"/><path d="M67,33.4L79.5,33.4L67,45.2Z" fill="#8538b0" stroke="#8538b0" stroke-width="0.3"/><path d="M55.5,33.4H78.5M67,22V44.2" stroke="#b07ad8" stroke-width="0.45" opacity="0.8"/><path d="M100.5,15.8L114.5,30.4L100.5,42.9L86.5,30.4Z" fill="#c09a42" stroke="#9a48d0" stroke-width="0.6"/><path d="M100.5,21L100.5,33.4L88,33.4Z" fill="#8e2fbc" stroke="#8e2fbc" stroke-width="0.3"/><path d="M100.5,21L113,33.4L100.5,33.4Z" fill="#8a2db6" stroke="#8a2db6" stroke-width="0.3"/><path d="M88,33.4L100.5,33.4L100.5,45.2Z" fill="#8329ad" stroke="#8329ad" stroke-width="0.3"/><path d="M100.5,33.4L113,33.4L100.5,45.2Z" fill="#7d27a6" stroke="#7d27a6" stroke-width="0.3"/><path d="M89,33.4H112M100.5,22V44.2" stroke="#a866d4" stroke-width="0.45" opacity="0.8"/><path d="M134,14.8L147.8,28.4L134,40.9L120.2,28.4Z" fill="#c9a24c" stroke="#b48cd8" stroke-width="0.5"/><path d="M134,18.9L134,33.4L120,33.4Z" fill="#ba8d2e" stroke="#ba8d2e" stroke-width="0.3"/><path d="M134,18.9L148,33.4L134,33.4Z" fill="#b8892c" stroke="#b8892c" stroke-width="0.3"/><path d="M120,33.4L134,33.4L134,46.3Z" fill="#b0842b" stroke="#b0842b" stroke-width="0.3"/><path d="M134,33.4L148,33.4L134,46.3Z" fill="#a97e28" stroke="#a97e28" stroke-width="0.3"/><path d="M121,32.4L134,18.9L147,32.4" fill="none" stroke="#a050dc" stroke-width="0.55"/><path d="M121,33.4H147M134,19.9V45.3" stroke="#d4b36a" stroke-width="0.45" opacity="0.8"/><path d="M0,49.2L14,63.8L0,76.3L-14,63.8Z" fill="#c09a42" stroke="#9a48d0" stroke-width="0.6"/><path d="M0,54.4L0,66.8L-12.5,66.8Z" fill="#8e2fbc" stroke="#8e2fbc" stroke-width="0.3"/><path d="M0,54.4L12.5,66.8L0,66.8Z" fill="#8a2db6" stroke="#8a2db6" stroke-width="0.3"/><path d="M-12.5,66.8L0,66.8L0,78.6Z" fill="#8329ad" stroke="#8329ad" stroke-width="0.3"/><path d="M0,66.8L12.5,66.8L0,78.6Z" fill="#7d27a6" stroke="#7d27a6" stroke-width="0.3"/><path d="M-11.5,66.8H11.5M0,55.4V77.6" stroke="#a866d4" stroke-width="0.45" opacity="0.8"/><path d="M33.5,48.2L47.3,61.8L33.5,74.3L19.7,61.8Z" fill="#c9a24c" stroke="#b48cd8" stroke-width="0.5"/><path d="M33.5,52.3L33.5,66.8L19.5,66.8Z" fill="#ba8d2e" stroke="#ba8d2e" stroke-width="0.3"/><path d="M33.5,52.3L47.5,66.8L33.5,66.8Z" fill="#b8892c" stroke="#b8892c" stroke-width="0.3"/><path d="M19.5,66.8L33.5,66.8L33.5,79.7Z" fill="#b0842b" stroke="#b0842b" stroke-width="0.3"/><path d="M33.5,66.8L47.5,66.8L33.5,79.7Z" fill="#a97e28" stroke="#a97e28" stroke-width="0.3"/><path d="M20.5,65.8L33.5,52.3L46.5,65.8" fill="none" stroke="#a050dc" stroke-width="0.55"/><path d="M20.5,66.8H46.5M33.5,53.3V78.7" stroke="#d4b36a" stroke-width="0.45" opacity="0.8"/><path d="M67,49.2L81,63.8L67,76.3L53,63.8Z" fill="#c09a42" stroke="#9a48d0" stroke-width="0.6"/><path d="M67,54.4L67,66.8L54.5,66.8Z" fill="#8e2fbc" stroke="#8e2fbc" stroke-width="0.3"/><path d="M67,54.4L79.5,66.8L67,66.8Z" fill="#8a2db6" stroke="#8a2db6" stroke-width="0.3"/><path d="M54.5,66.8L67,66.8L67,78.6Z" fill="#8329ad" stroke="#8329ad" stroke-width="0.3"/><path d="M67,66.8L79.5,66.8L67,78.6Z" fill="#7d27a6" stroke="#7d27a6" stroke-width="0.3"/><path d="M55.5,66.8H78.5M67,55.4V77.6" stroke="#a866d4" stroke-width="0.45" opacity="0.8"/><path d="M100.5,48.2L114.3,61.8L100.5,74.3L86.7,61.8Z" fill="#c9a24c" stroke="#b48cd8" stroke-width="0.5"/><path d="M100.5,52.3L100.5,66.8L86.5,66.8Z" fill="#ba8d2e" stroke="#ba8d2e" stroke-width="0.3"/><path d="M100.5,52.3L114.5,66.8L100.5,66.8Z" fill="#b8892c" stroke="#b8892c" stroke-width="0.3"/><path d="M86.5,66.8L100.5,66.8L100.5,79.7Z" fill="#b0842b" stroke="#b0842b" stroke-width="0.3"/><path d="M100.5,66.8L114.5,66.8L100.5,79.7Z" fill="#a97e28" stroke="#a97e28" stroke-width="0.3"/><path d="M87.5,65.8L100.5,52.3L113.5,65.8" fill="none" stroke="#a050dc" stroke-width="0.55"/><path d="M87.5,66.8H113.5M100.5,53.3V78.7" stroke="#d4b36a" stroke-width="0.45" opacity="0.8"/><path d="M134,49.2L148,63.8L134,76.3L120,63.8Z" fill="#c09a42" stroke="#9a48d0" stroke-width="0.6"/><path d="M134,54.4L134,66.8L121.5,66.8Z" fill="#8e2fbc" stroke="#8e2fbc" stroke-width="0.3"/><path d="M134,54.4L146.5,66.8L134,66.8Z" fill="#8a2db6" stroke="#8a2db6" stroke-width="0.3"/><path d="M121.5,66.8L134,66.8L134,78.6Z" fill="#8329ad" stroke="#8329ad" stroke-width="0.3"/><path d="M134,66.8L146.5,66.8L134,78.6Z" fill="#7d27a6" stroke="#7d27a6" stroke-width="0.3"/><path d="M122.5,66.8H145.5M134,55.4V77.6" stroke="#a866d4" stroke-width="0.45" opacity="0.8"/><circle cx="17.35" cy="-5" r="1.6" fill="#ececec" stroke="#7a7a7a" stroke-width="0.75"/><circle cx="17.35" cy="-1.3" r="1.6" fill="#ececec" stroke="#7a7a7a" stroke-width="0.75"/><circle cx="13.15" cy="-5.6" r="1.7" fill="url(#gN)"/><circle cx="13.05" cy="-0.2" r="1.8" fill="url(#gN)"/><circle cx="20.85" cy="-3" r="1.7" fill="url(#gN)"/><circle cx="49.65" cy="-5" r="1.6" fill="#ececec" stroke="#7a7a7a" stroke-width="0.75"/><circle cx="49.65" cy="-1.3" r="1.6" fill="#ececec" stroke="#7a7a7a" stroke-width="0.75"/><circle cx="46.05" cy="-3" r="1.7" fill="url(#gN)"/><circle cx="53.65" cy="-5.9" r="1.7" fill="url(#gN)"/><circle cx="53.05" cy="-0.2" r="1.8" fill="url(#gN)"/><circle cx="84.35" cy="-5" r="1.6" fill="#ececec" stroke="#7a7a7a" stroke-width="0.75"/><circle cx="84.35" cy="-1.3" r="1.6" fill="#ececec" stroke="#7a7a7a" stroke-width="0.75"/><circle cx="80.15" cy="-5.6" r="1.7" fill="url(#gN)"/><circle cx="80.05" cy="-0.2" r="1.8" fill="url(#gN)"/><circle cx="87.85" cy="-3" r="1.7" fill="url(#gN)"/><circle cx="116.65" cy="-5" r="1.6" fill="#ececec" stroke="#7a7a7a" stroke-width="0.75"/><circle cx="116.65" cy="-1.3" r="1.6" fill="#ececec" stroke="#7a7a7a" stroke-width="0.75"/><circle cx="113.05" cy="-3" r="1.7" fill="url(#gN)"/><circle cx="120.65" cy="-5.9" r="1.7" fill="url(#gN)"/><circle cx="120.05" cy="-0.2" r="1.8" fill="url(#gN)"/><circle cx="16.15" cy="28.4" r="1.6" fill="#ececec" stroke="#7a7a7a" stroke-width="0.75"/><circle cx="16.15" cy="32.1" r="1.6" fill="#ececec" stroke="#7a7a7a" stroke-width="0.75"/><circle cx="12.55" cy="30.4" r="1.7" fill="url(#gN)"/><circle cx="20.15" cy="27.5" r="1.7" fill="url(#gN)"/><circle cx="19.55" cy="33.2" r="1.8" fill="url(#gN)"/><circle cx="50.85" cy="28.4" r="1.6" fill="#ececec" stroke="#7a7a7a" stroke-width="0.75"/><circle cx="50.85" cy="32.1" r="1.6" fill="#ececec" stroke="#7a7a7a" stroke-width="0.75"/><circle cx="46.65" cy="27.8" r="1.7" fill="url(#gN)"/><circle cx="46.55" cy="33.2" r="1.8" fill="url(#gN)"/><circle cx="54.35" cy="30.4" r="1.7" fill="url(#gN)"/><circle cx="84.35" cy="28.4" r="1.6" fill="#ececec" stroke="#7a7a7a" stroke-width="0.75"/><circle cx="84.35" cy="32.1" r="1.6" fill="#ececec" stroke="#7a7a7a" stroke-width="0.75"/><circle cx="80.15" cy="27.8" r="1.7" fill="url(#gN)"/><circle cx="80.05" cy="33.2" r="1.8" fill="url(#gN)"/><circle cx="87.85" cy="30.4" r="1.7" fill="url(#gN)"/><circle cx="117.85" cy="28.4" r="1.6" fill="#ececec" stroke="#7a7a7a" stroke-width="0.75"/><circle cx="117.85" cy="32.1" r="1.6" fill="#ececec" stroke="#7a7a7a" stroke-width="0.75"/><circle cx="113.65" cy="27.8" r="1.7" fill="url(#gN)"/><circle cx="113.55" cy="33.2" r="1.8" fill="url(#gN)"/><circle cx="121.35" cy="30.4" r="1.7" fill="url(#gN)"/><circle cx="17.35" cy="61.8" r="1.6" fill="#ececec" stroke="#7a7a7a" stroke-width="0.75"/><circle cx="17.35" cy="65.5" r="1.6" fill="#ececec" stroke="#7a7a7a" stroke-width="0.75"/><circle cx="13.15" cy="61.2" r="1.7" fill="url(#gN)"/><circle cx="13.05" cy="66.6" r="1.8" fill="url(#gN)"/><circle cx="20.85" cy="63.8" r="1.7" fill="url(#gN)"/><circle cx="49.65" cy="61.8" r="1.6" fill="#ececec" stroke="#7a7a7a" stroke-width="0.75"/><circle cx="49.65" cy="65.5" r="1.6" fill="#ececec" stroke="#7a7a7a" stroke-width="0.75"/><circle cx="46.05" cy="63.8" r="1.7" fill="url(#gN)"/><circle cx="53.65" cy="60.9" r="1.7" fill="url(#gN)"/><circle cx="53.05" cy="66.6" r="1.8" fill="url(#gN)"/><circle cx="84.35" cy="61.8" r="1.6" fill="#ececec" stroke="#7a7a7a" stroke-width="0.75"/><circle cx="84.35" cy="65.5" r="1.6" fill="#ececec" stroke="#7a7a7a" stroke-width="0.75"/><circle cx="80.15" cy="61.2" r="1.7" fill="url(#gN)"/><circle cx="80.05" cy="66.6" r="1.8" fill="url(#gN)"/><circle cx="87.85" cy="63.8" r="1.7" fill="url(#gN)"/><circle cx="116.65" cy="61.8" r="1.6" fill="#ececec" stroke="#7a7a7a" stroke-width="0.75"/><circle cx="116.65" cy="65.5" r="1.6" fill="#ececec" stroke="#7a7a7a" stroke-width="0.75"/><circle cx="113.05" cy="63.8" r="1.7" fill="url(#gN)"/><circle cx="120.65" cy="60.9" r="1.7" fill="url(#gN)"/><circle cx="120.05" cy="66.6" r="1.8" fill="url(#gN)"/><circle cx="0" cy="17.1" r="1.6" fill="#ececec" stroke="#7a7a7a" stroke-width="0.75"/><circle cx="0" cy="13.4" r="1.8" fill="url(#gN)"/><circle cx="33.5" cy="14.8" r="1.6" fill="#ececec" stroke="#7a7a7a" stroke-width="0.75"/><circle cx="33.5" cy="18.7" r="1.8" fill="url(#gN)"/><circle cx="67" cy="17.1" r="1.6" fill="#ececec" stroke="#7a7a7a" stroke-width="0.75"/><circle cx="67" cy="13.4" r="1.8" fill="url(#gN)"/><circle cx="100.5" cy="14.8" r="1.6" fill="#ececec" stroke="#7a7a7a" stroke-width="0.75"/><circle cx="100.5" cy="18.7" r="1.8" fill="url(#gN)"/><circle cx="134" cy="17.1" r="1.6" fill="#ececec" stroke="#7a7a7a" stroke-width="0.75"/><circle cx="134" cy="13.4" r="1.8" fill="url(#gN)"/><circle cx="0" cy="48.2" r="1.6" fill="#ececec" stroke="#7a7a7a" stroke-width="0.75"/><circle cx="0" cy="52.1" r="1.8" fill="url(#gN)"/><circle cx="33.5" cy="50.5" r="1.6" fill="#ececec" stroke="#7a7a7a" stroke-width="0.75"/><circle cx="33.5" cy="46.8" r="1.8" fill="url(#gN)"/><circle cx="67" cy="50.5" r="1.6" fill="#ececec" stroke="#7a7a7a" stroke-width="0.75"/><circle cx="67" cy="46.8" r="1.8" fill="url(#gN)"/><circle cx="100.5" cy="50.5" r="1.6" fill="#ececec" stroke="#7a7a7a" stroke-width="0.75"/><circle cx="100.5" cy="46.8" r="1.8" fill="url(#gN)"/><circle cx="134" cy="48.2" r="1.6" fill="#ececec" stroke="#7a7a7a" stroke-width="0.75"/><circle cx="134" cy="52.1" r="1.8" fill="url(#gN)"/><circle cx="4" cy="4.2" r="2.2" fill="url(#gCO)"/><circle cx="8" cy="2.7" r="0.9" fill="#f4eef4"/><circle cx="1.5" cy="7.7" r="0.8" fill="#f4eef4"/><circle cx="63.1" cy="2.1" r="2.2" fill="url(#gCO)"/><circle cx="67.1" cy="0.6" r="0.9" fill="#f4eef4"/><circle cx="60.6" cy="5.6" r="0.8" fill="#f4eef4"/><circle cx="131.4" cy="4.8" r="2.2" fill="url(#gCO)"/><circle cx="135.4" cy="3.3" r="0.9" fill="#f4eef4"/><circle cx="128.9" cy="8.3" r="0.8" fill="#f4eef4"/><circle cx="35.5" cy="36.8" r="2.2" fill="url(#gCO)"/><circle cx="39.5" cy="35.3" r="0.9" fill="#f4eef4"/><circle cx="33" cy="40.3" r="0.8" fill="#f4eef4"/><circle cx="69.7" cy="27.1" r="2.2" fill="url(#gCO)"/><circle cx="73.7" cy="25.6" r="0.9" fill="#f4eef4"/><circle cx="67.2" cy="30.6" r="0.8" fill="#f4eef4"/><circle cx="104.4" cy="28.9" r="2.2" fill="url(#gCO)"/><circle cx="108.4" cy="27.4" r="0.9" fill="#f4eef4"/><circle cx="101.9" cy="32.4" r="0.8" fill="#f4eef4"/><circle cx="5.3" cy="63.3" r="2.2" fill="url(#gCO)"/><circle cx="9.3" cy="61.8" r="0.9" fill="#f4eef4"/><circle cx="2.8" cy="66.8" r="0.8" fill="#f4eef4"/><circle cx="63.1" cy="62" r="2.2" fill="url(#gCO)"/><circle cx="67.1" cy="60.5" r="0.9" fill="#f4eef4"/><circle cx="60.6" cy="65.5" r="0.8" fill="#f4eef4"/><circle cx="130.9" cy="68.3" r="2.2" fill="url(#gCO)"/><circle cx="134.9" cy="66.8" r="0.9" fill="#f4eef4"/><circle cx="128.4" cy="71.8" r="0.8" fill="#f4eef4"/></g>
<g id="watA"><path d="M8.4,12.68L10.6,11.3L9.8,8.83" stroke="#9a9a9a" stroke-width="0.6" fill="none"/><circle cx="8.4" cy="12.68" r="0.8" fill="#e0e0e0" stroke="#aaa" stroke-width="0.3"/><circle cx="9.8" cy="8.83" r="0.8" fill="#e0e0e0" stroke="#aaa" stroke-width="0.3"/><circle cx="10.6" cy="11.3" r="1.8" fill="url(#gOi)"/><path d="M16.74,20.47L17.1,17.9L14.69,16.93" stroke="#9a9a9a" stroke-width="0.6" fill="none"/><circle cx="16.74" cy="20.47" r="0.8" fill="#e0e0e0" stroke="#aaa" stroke-width="0.3"/><circle cx="14.69" cy="16.93" r="0.8" fill="#e0e0e0" stroke="#aaa" stroke-width="0.3"/><circle cx="17.1" cy="17.9" r="1.8" fill="url(#gOi)"/><path d="M52.27,17.71L51.3,15.3L48.73,15.66" stroke="#9a9a9a" stroke-width="0.6" fill="none"/><circle cx="52.27" cy="17.71" r="0.8" fill="#e0e0e0" stroke="#aaa" stroke-width="0.3"/><circle cx="48.73" cy="15.66" r="0.8" fill="#e0e0e0" stroke="#aaa" stroke-width="0.3"/><circle cx="51.3" cy="15.3" r="1.8" fill="url(#gOi)"/><path d="M52.23,9.7L54.7,10.5L56.08,8.3" stroke="#9a9a9a" stroke-width="0.6" fill="none"/><circle cx="52.23" cy="9.7" r="0.8" fill="#e0e0e0" stroke="#aaa" stroke-width="0.3"/><circle cx="56.08" cy="8.3" r="0.8" fill="#e0e0e0" stroke="#aaa" stroke-width="0.3"/><circle cx="54.7" cy="10.5" r="1.8" fill="url(#gOi)"/><path d="M79.4,14.57L80.2,12.1L78,10.72" stroke="#9a9a9a" stroke-width="0.6" fill="none"/><circle cx="79.4" cy="14.57" r="0.8" fill="#e0e0e0" stroke="#aaa" stroke-width="0.3"/><circle cx="78" cy="10.72" r="0.8" fill="#e0e0e0" stroke="#aaa" stroke-width="0.3"/><circle cx="80.2" cy="12.1" r="1.8" fill="url(#gOi)"/><path d="M86.33,10.79L87.3,13.2L89.87,12.84" stroke="#9a9a9a" stroke-width="0.6" fill="none"/><circle cx="86.33" cy="10.79" r="0.8" fill="#e0e0e0" stroke="#aaa" stroke-width="0.3"/><circle cx="89.87" cy="12.84" r="0.8" fill="#e0e0e0" stroke="#aaa" stroke-width="0.3"/><circle cx="87.3" cy="13.2" r="1.8" fill="url(#gOi)"/><path d="M118.2,10.88L120.4,9.5L119.6,7.03" stroke="#9a9a9a" stroke-width="0.6" fill="none"/><circle cx="118.2" cy="10.88" r="0.8" fill="#e0e0e0" stroke="#aaa" stroke-width="0.3"/><circle cx="119.6" cy="7.03" r="0.8" fill="#e0e0e0" stroke="#aaa" stroke-width="0.3"/><circle cx="120.4" cy="9.5" r="1.8" fill="url(#gOi)"/><path d="M115.64,21.74L115.1,19.2L112.5,19.11" stroke="#9a9a9a" stroke-width="0.6" fill="none"/><circle cx="115.64" cy="21.74" r="0.8" fill="#e0e0e0" stroke="#aaa" stroke-width="0.3"/><circle cx="112.5" cy="19.11" r="0.8" fill="#e0e0e0" stroke="#aaa" stroke-width="0.3"/><circle cx="115.1" cy="19.2" r="1.8" fill="url(#gOi)"/><path d="M14.1,48.18L16.3,46.8L15.5,44.33" stroke="#9a9a9a" stroke-width="0.6" fill="none"/><circle cx="14.1" cy="48.18" r="0.8" fill="#e0e0e0" stroke="#aaa" stroke-width="0.3"/><circle cx="15.5" cy="44.33" r="0.8" fill="#e0e0e0" stroke="#aaa" stroke-width="0.3"/><circle cx="16.3" cy="46.8" r="1.8" fill="url(#gOi)"/><path d="M21.19,56.8L21.1,54.2L18.56,53.66" stroke="#9a9a9a" stroke-width="0.6" fill="none"/><circle cx="21.19" cy="56.8" r="0.8" fill="#e0e0e0" stroke="#aaa" stroke-width="0.3"/><circle cx="18.56" cy="53.66" r="0.8" fill="#e0e0e0" stroke="#aaa" stroke-width="0.3"/><circle cx="21.1" cy="54.2" r="1.8" fill="url(#gOi)"/><path d="M49.37,45.34L51.3,43.6L50.08,41.3" stroke="#9a9a9a" stroke-width="0.6" fill="none"/><circle cx="49.37" cy="45.34" r="0.8" fill="#e0e0e0" stroke="#aaa" stroke-width="0.3"/><circle cx="50.08" cy="41.3" r="0.8" fill="#e0e0e0" stroke="#aaa" stroke-width="0.3"/><circle cx="51.3" cy="43.6" r="1.8" fill="url(#gOi)"/><path d="M49.37,52.46L46.8,52.1L45.83,54.51" stroke="#9a9a9a" stroke-width="0.6" fill="none"/><circle cx="49.37" cy="52.46" r="0.8" fill="#e0e0e0" stroke="#aaa" stroke-width="0.3"/><circle cx="45.83" cy="54.51" r="0.8" fill="#e0e0e0" stroke="#aaa" stroke-width="0.3"/><circle cx="46.8" cy="52.1" r="1.8" fill="url(#gOi)"/><path d="M80.39,42.47L82.8,41.5L82.44,38.93" stroke="#9a9a9a" stroke-width="0.6" fill="none"/><circle cx="80.39" cy="42.47" r="0.8" fill="#e0e0e0" stroke="#aaa" stroke-width="0.3"/><circle cx="82.44" cy="38.93" r="0.8" fill="#e0e0e0" stroke="#aaa" stroke-width="0.3"/><circle cx="82.8" cy="41.5" r="1.8" fill="url(#gOi)"/><path d="M86.65,48.4L84.6,46.8L82.55,48.4" stroke="#9a9a9a" stroke-width="0.6" fill="none"/><circle cx="86.65" cy="48.4" r="0.8" fill="#e0e0e0" stroke="#aaa" stroke-width="0.3"/><circle cx="82.55" cy="48.4" r="0.8" fill="#e0e0e0" stroke="#aaa" stroke-width="0.3"/><circle cx="84.6" cy="46.8" r="1.8" fill="url(#gOi)"/><path d="M114.73,44.89L115.7,47.3L118.27,46.94" stroke="#9a9a9a" stroke-width="0.6" fill="none"/><circle cx="114.73" cy="44.89" r="0.8" fill="#e0e0e0" stroke="#aaa" stroke-width="0.3"/><circle cx="118.27" cy="46.94" r="0.8" fill="#e0e0e0" stroke="#aaa" stroke-width="0.3"/><circle cx="115.7" cy="47.3" r="1.8" fill="url(#gOi)"/></g>
<g id="watB"><path d="M14.26,18.14L16.8,17.6L16.89,15" stroke="#9a9a9a" stroke-width="0.6" fill="none"/><circle cx="14.26" cy="18.14" r="0.8" fill="#e0e0e0" stroke="#aaa" stroke-width="0.3"/><circle cx="16.89" cy="15" r="0.8" fill="#e0e0e0" stroke="#aaa" stroke-width="0.3"/><circle cx="16.8" cy="17.6" r="1.8" fill="url(#gOi)"/><path d="M51.13,8.9L53.6,9.7L54.98,7.5" stroke="#9a9a9a" stroke-width="0.6" fill="none"/><circle cx="51.13" cy="8.9" r="0.8" fill="#e0e0e0" stroke="#aaa" stroke-width="0.3"/><circle cx="54.98" cy="7.5" r="0.8" fill="#e0e0e0" stroke="#aaa" stroke-width="0.3"/><circle cx="53.6" cy="9.7" r="1.8" fill="url(#gOi)"/><path d="M84.2,14.28L86.4,12.9L85.6,10.43" stroke="#9a9a9a" stroke-width="0.6" fill="none"/><circle cx="84.2" cy="14.28" r="0.8" fill="#e0e0e0" stroke="#aaa" stroke-width="0.3"/><circle cx="85.6" cy="10.43" r="0.8" fill="#e0e0e0" stroke="#aaa" stroke-width="0.3"/><circle cx="86.4" cy="12.9" r="1.8" fill="url(#gOi)"/><path d="M111.96,19.44L114.5,18.9L114.59,16.3" stroke="#9a9a9a" stroke-width="0.6" fill="none"/><circle cx="111.96" cy="19.44" r="0.8" fill="#e0e0e0" stroke="#aaa" stroke-width="0.3"/><circle cx="114.59" cy="16.3" r="0.8" fill="#e0e0e0" stroke="#aaa" stroke-width="0.3"/><circle cx="114.5" cy="18.9" r="1.8" fill="url(#gOi)"/><path d="M14.1,47.88L16.3,46.5L15.5,44.03" stroke="#9a9a9a" stroke-width="0.6" fill="none"/><circle cx="14.1" cy="47.88" r="0.8" fill="#e0e0e0" stroke="#aaa" stroke-width="0.3"/><circle cx="15.5" cy="44.03" r="0.8" fill="#e0e0e0" stroke="#aaa" stroke-width="0.3"/><circle cx="16.3" cy="46.5" r="1.8" fill="url(#gOi)"/><path d="M48.43,43.1L50.9,43.9L52.28,41.7" stroke="#9a9a9a" stroke-width="0.6" fill="none"/><circle cx="48.43" cy="43.1" r="0.8" fill="#e0e0e0" stroke="#aaa" stroke-width="0.3"/><circle cx="52.28" cy="41.7" r="0.8" fill="#e0e0e0" stroke="#aaa" stroke-width="0.3"/><circle cx="50.9" cy="43.9" r="1.8" fill="url(#gOi)"/><path d="M80.59,44.87L83,43.9L82.64,41.33" stroke="#9a9a9a" stroke-width="0.6" fill="none"/><circle cx="80.59" cy="44.87" r="0.8" fill="#e0e0e0" stroke="#aaa" stroke-width="0.3"/><circle cx="82.64" cy="41.33" r="0.8" fill="#e0e0e0" stroke="#aaa" stroke-width="0.3"/><circle cx="83" cy="43.9" r="1.8" fill="url(#gOi)"/></g>
</defs>
<use href="#latBase" x="53.7" y="414.4"/>
<use href="#latBase" x="290.5" y="414.4"/>
<use href="#latBase" x="520" y="414.7"/>
<use href="#latBase" x="54" y="570.3"/>
<use href="#latBase" x="290.3" y="570.2"/>
<use href="#latBase" x="520" y="571"/>
<use href="#watA" x="53.7" y="414.4"/>
<use href="#watA" x="54" y="570.3"/>
<use href="#watA" x="520" y="571"/>
<use href="#watB" x="520" y="414.7"/>
<g transform="translate(290.5,412)"><circle cx="20.8" cy="15" r="5.2" fill="none" stroke="#9eeef8" stroke-width="0.9" opacity="0.8" stroke-dasharray="9,5"/><path d="M20.8,15L11,13.7" stroke="#f0a020" stroke-width="1.1"/><path d="M20.8,15L18.9,9.5" stroke="#f0a020" stroke-width="1.1"/><path d="M20.8,15L16.3,20.3" stroke="#f0a020" stroke-width="1.1"/><circle cx="20.8" cy="15" r="3.3" fill="url(#gK)"/><path d="M9.14,15.52L11,13.7L9.68,11.46" stroke="#9a9a9a" stroke-width="0.6" fill="none"/><circle cx="9.14" cy="15.52" r="0.8" fill="#e0e0e0" stroke="#aaa" stroke-width="0.3"/><circle cx="9.68" cy="11.46" r="0.8" fill="#e0e0e0" stroke="#aaa" stroke-width="0.3"/><circle cx="11" cy="13.7" r="1.8" fill="url(#gOi)"/><path d="M16.44,8.66L18.9,9.5L20.31,7.32" stroke="#9a9a9a" stroke-width="0.6" fill="none"/><circle cx="16.44" cy="8.66" r="0.8" fill="#e0e0e0" stroke="#aaa" stroke-width="0.3"/><circle cx="20.31" cy="7.32" r="0.8" fill="#e0e0e0" stroke="#aaa" stroke-width="0.3"/><circle cx="18.9" cy="9.5" r="1.8" fill="url(#gOi)"/><path d="M16.83,22.85L16.3,20.3L13.7,20.19" stroke="#9a9a9a" stroke-width="0.6" fill="none"/><circle cx="16.83" cy="22.85" r="0.8" fill="#e0e0e0" stroke="#aaa" stroke-width="0.3"/><circle cx="13.7" cy="20.19" r="0.8" fill="#e0e0e0" stroke="#aaa" stroke-width="0.3"/><circle cx="16.3" cy="20.3" r="1.8" fill="url(#gOi)"/><circle cx="42.6" cy="20.3" r="5.2" fill="none" stroke="#9eeef8" stroke-width="0.9" opacity="0.8" stroke-dasharray="9,5"/><path d="M42.6,20.3L40.5,14.5" stroke="#f0a020" stroke-width="1.1"/><path d="M42.6,20.3L53.1,11.9" stroke="#f0a020" stroke-width="1.1"/><circle cx="42.6" cy="20.3" r="3.3" fill="url(#gK)"/><path d="M38.03,13.69L40.5,14.5L41.88,12.3" stroke="#9a9a9a" stroke-width="0.6" fill="none"/><circle cx="38.03" cy="13.69" r="0.8" fill="#e0e0e0" stroke="#aaa" stroke-width="0.3"/><circle cx="41.88" cy="12.3" r="0.8" fill="#e0e0e0" stroke="#aaa" stroke-width="0.3"/><circle cx="40.5" cy="14.5" r="1.8" fill="url(#gOi)"/><path d="M53.07,9.3L53.1,11.9L55.63,12.5" stroke="#9a9a9a" stroke-width="0.6" fill="none"/><circle cx="53.07" cy="9.3" r="0.8" fill="#e0e0e0" stroke="#aaa" stroke-width="0.3"/><circle cx="55.63" cy="12.5" r="0.8" fill="#e0e0e0" stroke="#aaa" stroke-width="0.3"/><circle cx="53.1" cy="11.9" r="1.8" fill="url(#gOi)"/><circle cx="87.7" cy="17.7" r="5.2" fill="none" stroke="#9eeef8" stroke-width="0.9" opacity="0.8" stroke-dasharray="9,5"/><path d="M87.7,17.7L78.8,13.7" stroke="#f0a020" stroke-width="1.1"/><path d="M87.7,17.7L88.5,11.5" stroke="#f0a020" stroke-width="1.1"/><circle cx="87.7" cy="17.7" r="3.3" fill="url(#gK)"/><path d="M76.5,14.91L78.8,13.7L78.18,11.18" stroke="#9a9a9a" stroke-width="0.6" fill="none"/><circle cx="76.5" cy="14.91" r="0.8" fill="#e0e0e0" stroke="#aaa" stroke-width="0.3"/><circle cx="78.18" cy="11.18" r="0.8" fill="#e0e0e0" stroke="#aaa" stroke-width="0.3"/><circle cx="78.8" cy="13.7" r="1.8" fill="url(#gOi)"/><path d="M86.67,9.65L88.5,11.5L90.74,10.17" stroke="#9a9a9a" stroke-width="0.6" fill="none"/><circle cx="86.67" cy="9.65" r="0.8" fill="#e0e0e0" stroke="#aaa" stroke-width="0.3"/><circle cx="90.74" cy="10.17" r="0.8" fill="#e0e0e0" stroke="#aaa" stroke-width="0.3"/><circle cx="88.5" cy="11.5" r="1.8" fill="url(#gOi)"/><circle cx="114.8" cy="20.3" r="5.2" fill="none" stroke="#9eeef8" stroke-width="0.9" opacity="0.8" stroke-dasharray="9,5"/><path d="M114.8,20.3L109.5,17.7" stroke="#f0a020" stroke-width="1.1"/><path d="M114.8,20.3L120.1,11.9" stroke="#f0a020" stroke-width="1.1"/><circle cx="114.8" cy="20.3" r="3.3" fill="url(#gK)"/><path d="M107.16,18.83L109.5,17.7L108.97,15.16" stroke="#9a9a9a" stroke-width="0.6" fill="none"/><circle cx="107.16" cy="18.83" r="0.8" fill="#e0e0e0" stroke="#aaa" stroke-width="0.3"/><circle cx="108.97" cy="15.16" r="0.8" fill="#e0e0e0" stroke="#aaa" stroke-width="0.3"/><circle cx="109.5" cy="17.7" r="1.8" fill="url(#gOi)"/><path d="M119.22,9.45L120.1,11.9L122.69,11.64" stroke="#9a9a9a" stroke-width="0.6" fill="none"/><circle cx="119.22" cy="9.45" r="0.8" fill="#e0e0e0" stroke="#aaa" stroke-width="0.3"/><circle cx="122.69" cy="11.64" r="0.8" fill="#e0e0e0" stroke="#aaa" stroke-width="0.3"/><circle cx="120.1" cy="11.9" r="1.8" fill="url(#gOi)"/><circle cx="16.3" cy="49.2" r="5.2" fill="none" stroke="#9eeef8" stroke-width="0.9" opacity="0.8" stroke-dasharray="9,5"/><path d="M16.3,49.2L13.7,43.9" stroke="#f0a020" stroke-width="1.1"/><path d="M16.3,49.2L20.2,57.1" stroke="#f0a020" stroke-width="1.1"/><circle cx="16.3" cy="49.2" r="3.3" fill="url(#gK)"/><path d="M11.16,43.37L13.7,43.9L14.83,41.56" stroke="#9a9a9a" stroke-width="0.6" fill="none"/><circle cx="11.16" cy="43.37" r="0.8" fill="#e0e0e0" stroke="#aaa" stroke-width="0.3"/><circle cx="14.83" cy="41.56" r="0.8" fill="#e0e0e0" stroke="#aaa" stroke-width="0.3"/><circle cx="13.7" cy="43.9" r="1.8" fill="url(#gOi)"/><path d="M22.75,57.63L20.2,57.1L19.07,59.44" stroke="#9a9a9a" stroke-width="0.6" fill="none"/><circle cx="22.75" cy="57.63" r="0.8" fill="#e0e0e0" stroke="#aaa" stroke-width="0.3"/><circle cx="19.07" cy="59.44" r="0.8" fill="#e0e0e0" stroke="#aaa" stroke-width="0.3"/><circle cx="20.2" cy="57.1" r="1.8" fill="url(#gOi)"/><circle cx="50.4" cy="47.1" r="5.2" fill="none" stroke="#9eeef8" stroke-width="0.9" opacity="0.8" stroke-dasharray="9,5"/><path d="M50.4,47.1L51,41.3" stroke="#f0a020" stroke-width="1.1"/><path d="M50.4,47.1L45.2,55" stroke="#f0a020" stroke-width="1.1"/><circle cx="50.4" cy="47.1" r="3.3" fill="url(#gK)"/><path d="M49.13,39.5L51,41.3L53.2,39.92" stroke="#9a9a9a" stroke-width="0.6" fill="none"/><circle cx="49.13" cy="39.5" r="0.8" fill="#e0e0e0" stroke="#aaa" stroke-width="0.3"/><circle cx="53.2" cy="39.92" r="0.8" fill="#e0e0e0" stroke="#aaa" stroke-width="0.3"/><circle cx="51" cy="41.3" r="1.8" fill="url(#gOi)"/><path d="M46.03,57.46L45.2,55L42.61,55.21" stroke="#9a9a9a" stroke-width="0.6" fill="none"/><circle cx="46.03" cy="57.46" r="0.8" fill="#e0e0e0" stroke="#aaa" stroke-width="0.3"/><circle cx="42.61" cy="55.21" r="0.8" fill="#e0e0e0" stroke="#aaa" stroke-width="0.3"/><circle cx="45.2" cy="55" r="1.8" fill="url(#gOi)"/><circle cx="80.7" cy="42.6" r="5.2" fill="none" stroke="#9eeef8" stroke-width="0.9" opacity="0.8" stroke-dasharray="9,5"/><path d="M80.7,42.6L77.2,37.8" stroke="#f0a020" stroke-width="1.1"/><path d="M80.7,42.6L84.6,49.8" stroke="#f0a020" stroke-width="1.1"/><circle cx="80.7" cy="42.6" r="3.3" fill="url(#gK)"/><path d="M74.6,37.71L77.2,37.8L77.91,35.3" stroke="#9a9a9a" stroke-width="0.6" fill="none"/><circle cx="74.6" cy="37.71" r="0.8" fill="#e0e0e0" stroke="#aaa" stroke-width="0.3"/><circle cx="77.91" cy="35.3" r="0.8" fill="#e0e0e0" stroke="#aaa" stroke-width="0.3"/><circle cx="77.2" cy="37.8" r="1.8" fill="url(#gOi)"/><path d="M87.16,50.23L84.6,49.8L83.56,52.18" stroke="#9a9a9a" stroke-width="0.6" fill="none"/><circle cx="87.16" cy="50.23" r="0.8" fill="#e0e0e0" stroke="#aaa" stroke-width="0.3"/><circle cx="83.56" cy="52.18" r="0.8" fill="#e0e0e0" stroke="#aaa" stroke-width="0.3"/><circle cx="84.6" cy="49.8" r="1.8" fill="url(#gOi)"/><circle cx="123.5" cy="53.1" r="5.2" fill="none" stroke="#9eeef8" stroke-width="0.9" opacity="0.8" stroke-dasharray="9,5"/><path d="M123.5,53.1L114.8,49.7" stroke="#f0a020" stroke-width="1.1"/><path d="M123.5,53.1L126.6,48.2" stroke="#f0a020" stroke-width="1.1"/><circle cx="123.5" cy="53.1" r="3.3" fill="url(#gK)"/><path d="M112.56,51.03L114.8,49.7L114.05,47.21" stroke="#9a9a9a" stroke-width="0.6" fill="none"/><circle cx="112.56" cy="51.03" r="0.8" fill="#e0e0e0" stroke="#aaa" stroke-width="0.3"/><circle cx="114.05" cy="47.21" r="0.8" fill="#e0e0e0" stroke="#aaa" stroke-width="0.3"/><circle cx="114.8" cy="49.7" r="1.8" fill="url(#gOi)"/><path d="M125.72,45.75L126.6,48.2L129.19,47.94" stroke="#9a9a9a" stroke-width="0.6" fill="none"/><circle cx="125.72" cy="45.75" r="0.8" fill="#e0e0e0" stroke="#aaa" stroke-width="0.3"/><circle cx="129.19" cy="47.94" r="0.8" fill="#e0e0e0" stroke="#aaa" stroke-width="0.3"/><circle cx="126.6" cy="48.2" r="1.8" fill="url(#gOi)"/></g>
<g transform="translate(290.3,568.4)"><ellipse cx="14" cy="14.5" rx="10" ry="8.5" fill="#f4fdff" opacity="0.7"/><path d="M4,14.5 A10,8.5 0 0 0 24,14.5" stroke="#8eeaf4" stroke-width="1" fill="none" opacity="0.9"/><circle cx="17.6" cy="10.5" r="3.6" fill="url(#gK)"/><circle cx="9.8" cy="14.1" r="2.2" fill="url(#gC)"/><circle cx="13.4" cy="15.3" r="2.3" fill="url(#gC)"/><circle cx="15.8" cy="17.1" r="2.1" fill="url(#gC)"/><circle cx="14" cy="9.3" r="2" fill="url(#gOi)"/><circle cx="18.8" cy="14.46" r="2.3" fill="url(#gOi)"/><circle cx="8" cy="11.7" r="1.7" fill="url(#gOi)"/><circle cx="16.4" cy="10.5" r="1.1" fill="#fff"/><circle cx="6.8" cy="17.1" r="1" fill="#eee"/><circle cx="12.8" cy="19.5" r="0.9" fill="#eee"/><path d="M20.4,19.93L23.6,25.47" stroke="#1f5fe8" stroke-width="1.8" stroke-linecap="round"/><circle cx="21.52" cy="21.87" r="1.1" fill="#e33"/><ellipse cx="48" cy="13.5" rx="10" ry="8.5" fill="#f4fdff" opacity="0.7"/><path d="M38,13.5 A10,8.5 0 0 0 58,13.5" stroke="#8eeaf4" stroke-width="1" fill="none" opacity="0.9"/><circle cx="51.6" cy="9.5" r="3.6" fill="url(#gK)"/><circle cx="43.8" cy="13.1" r="2.2" fill="url(#gC)"/><circle cx="47.4" cy="14.3" r="2.3" fill="url(#gC)"/><circle cx="49.8" cy="16.1" r="2.1" fill="url(#gC)"/><circle cx="48" cy="8.3" r="2" fill="url(#gOi)"/><circle cx="52.8" cy="13.46" r="2.3" fill="url(#gOi)"/><circle cx="42" cy="10.7" r="1.7" fill="url(#gOi)"/><circle cx="50.4" cy="9.5" r="1.1" fill="#fff"/><circle cx="40.8" cy="16.1" r="1" fill="#eee"/><circle cx="46.8" cy="18.5" r="0.9" fill="#eee"/><path d="M43.01,20.91L36.99,23.09" stroke="#1f5fe8" stroke-width="1.8" stroke-linecap="round"/><circle cx="40.9" cy="21.67" r="1.1" fill="#e33"/><ellipse cx="84" cy="13.5" rx="10" ry="8.5" fill="#f4fdff" opacity="0.7"/><path d="M74,13.5 A10,8.5 0 0 0 94,13.5" stroke="#8eeaf4" stroke-width="1" fill="none" opacity="0.9"/><circle cx="87.6" cy="9.5" r="3.6" fill="url(#gK)"/><circle cx="79.8" cy="13.1" r="2.2" fill="url(#gC)"/><circle cx="83.4" cy="14.3" r="2.3" fill="url(#gC)"/><circle cx="85.8" cy="16.1" r="2.1" fill="url(#gC)"/><circle cx="84" cy="8.3" r="2" fill="url(#gOi)"/><circle cx="88.8" cy="13.46" r="2.3" fill="url(#gOi)"/><circle cx="78" cy="10.7" r="1.7" fill="url(#gOi)"/><circle cx="86.4" cy="9.5" r="1.1" fill="#fff"/><circle cx="76.8" cy="16.1" r="1" fill="#eee"/><circle cx="82.8" cy="18.5" r="0.9" fill="#eee"/><path d="M80.01,21.09L73.99,18.91" stroke="#1f5fe8" stroke-width="1.8" stroke-linecap="round"/><circle cx="77.9" cy="20.33" r="1.1" fill="#e33"/><ellipse cx="118" cy="14" rx="10" ry="8.5" fill="#f4fdff" opacity="0.7"/><path d="M108,14 A10,8.5 0 0 0 128,14" stroke="#8eeaf4" stroke-width="1" fill="none" opacity="0.9"/><circle cx="121.6" cy="10" r="3.6" fill="url(#gK)"/><circle cx="113.8" cy="13.6" r="2.2" fill="url(#gC)"/><circle cx="117.4" cy="14.8" r="2.3" fill="url(#gC)"/><circle cx="119.8" cy="16.6" r="2.1" fill="url(#gC)"/><circle cx="118" cy="8.8" r="2" fill="url(#gOi)"/><circle cx="122.8" cy="13.96" r="2.3" fill="url(#gOi)"/><circle cx="112" cy="11.2" r="1.7" fill="url(#gOi)"/><circle cx="120.4" cy="10" r="1.1" fill="#fff"/><circle cx="110.8" cy="16.6" r="1" fill="#eee"/><circle cx="116.8" cy="19" r="0.9" fill="#eee"/><path d="M113.56,17.85L112.44,24.15" stroke="#1f5fe8" stroke-width="1.8" stroke-linecap="round"/><circle cx="113.17" cy="20.05" r="1.1" fill="#e33"/><ellipse cx="14" cy="47" rx="10" ry="8.5" fill="#f4fdff" opacity="0.7"/><path d="M4,47 A10,8.5 0 0 0 24,47" stroke="#8eeaf4" stroke-width="1" fill="none" opacity="0.9"/><circle cx="17.6" cy="43" r="3.6" fill="url(#gK)"/><circle cx="9.8" cy="46.6" r="2.2" fill="url(#gC)"/><circle cx="13.4" cy="47.8" r="2.3" fill="url(#gC)"/><circle cx="15.8" cy="49.6" r="2.1" fill="url(#gC)"/><circle cx="14" cy="41.8" r="2" fill="url(#gOi)"/><circle cx="18.8" cy="46.96" r="2.3" fill="url(#gOi)"/><circle cx="8" cy="44.2" r="1.7" fill="url(#gOi)"/><circle cx="16.4" cy="43" r="1.1" fill="#fff"/><circle cx="6.8" cy="49.6" r="1" fill="#eee"/><circle cx="12.8" cy="52" r="0.9" fill="#eee"/><path d="M18.4,53.23L21.6,58.77" stroke="#1f5fe8" stroke-width="1.8" stroke-linecap="round"/><circle cx="19.52" cy="55.17" r="1.1" fill="#e33"/><ellipse cx="50" cy="47" rx="10" ry="8.5" fill="#f4fdff" opacity="0.7"/><path d="M40,47 A10,8.5 0 0 0 60,47" stroke="#8eeaf4" stroke-width="1" fill="none" opacity="0.9"/><circle cx="46.4" cy="43" r="3.6" fill="url(#gK)"/><circle cx="54.2" cy="46.6" r="2.2" fill="url(#gC)"/><circle cx="50.6" cy="47.8" r="2.3" fill="url(#gC)"/><circle cx="48.2" cy="49.6" r="2.1" fill="url(#gC)"/><circle cx="50" cy="41.8" r="2" fill="url(#gOi)"/><circle cx="45.2" cy="46.96" r="2.3" fill="url(#gOi)"/><circle cx="56" cy="44.2" r="1.7" fill="url(#gOi)"/><circle cx="47.6" cy="43" r="1.1" fill="#fff"/><circle cx="57.2" cy="49.6" r="1" fill="#eee"/><circle cx="51.2" cy="52" r="0.9" fill="#eee"/><path d="M39.77,55.6L34.23,52.4" stroke="#1f5fe8" stroke-width="1.8" stroke-linecap="round"/><circle cx="37.83" cy="54.48" r="1.1" fill="#e33"/><ellipse cx="84" cy="47" rx="10" ry="8.5" fill="#f4fdff" opacity="0.7"/><path d="M74,47 A10,8.5 0 0 0 94,47" stroke="#8eeaf4" stroke-width="1" fill="none" opacity="0.9"/><circle cx="87.6" cy="43" r="3.6" fill="url(#gK)"/><circle cx="79.8" cy="46.6" r="2.2" fill="url(#gC)"/><circle cx="83.4" cy="47.8" r="2.3" fill="url(#gC)"/><circle cx="85.8" cy="49.6" r="2.1" fill="url(#gC)"/><circle cx="84" cy="41.8" r="2" fill="url(#gOi)"/><circle cx="88.8" cy="46.96" r="2.3" fill="url(#gOi)"/><circle cx="78" cy="44.2" r="1.7" fill="url(#gOi)"/><circle cx="86.4" cy="43" r="1.1" fill="#fff"/><circle cx="76.8" cy="49.6" r="1" fill="#eee"/><circle cx="82.8" cy="52" r="0.9" fill="#eee"/><path d="M88.6,56.77L85.4,51.23" stroke="#1f5fe8" stroke-width="1.8" stroke-linecap="round"/><circle cx="87.48" cy="54.83" r="1.1" fill="#e33"/><ellipse cx="118" cy="47" rx="10" ry="8.5" fill="#f4fdff" opacity="0.7"/><path d="M108,47 A10,8.5 0 0 0 128,47" stroke="#8eeaf4" stroke-width="1" fill="none" opacity="0.9"/><circle cx="121.6" cy="43" r="3.6" fill="url(#gK)"/><circle cx="113.8" cy="46.6" r="2.2" fill="url(#gC)"/><circle cx="117.4" cy="47.8" r="2.3" fill="url(#gC)"/><circle cx="119.8" cy="49.6" r="2.1" fill="url(#gC)"/><circle cx="118" cy="41.8" r="2" fill="url(#gOi)"/><circle cx="122.8" cy="46.96" r="2.3" fill="url(#gOi)"/><circle cx="112" cy="44.2" r="1.7" fill="url(#gOi)"/><circle cx="120.4" cy="43" r="1.1" fill="#fff"/><circle cx="110.8" cy="49.6" r="1" fill="#eee"/><circle cx="116.8" cy="52" r="0.9" fill="#eee"/><path d="M114.45,51.94L109.55,56.06" stroke="#1f5fe8" stroke-width="1.8" stroke-linecap="round"/><circle cx="112.74" cy="53.38" r="1.1" fill="#e33"/></g>
<circle cx="232.3" cy="423.7" r="23.2" fill="url(#gBub)"/><circle cx="232.3" cy="423.7" r="22.8" fill="none" stroke="#e2f9fc" stroke-width="0.8"/><path d="M254.56,419.78 A22.6,22.6 0 1 1 209.79,425.67" stroke="#8aeef6" stroke-width="1.5" fill="none"/><path d="M253.94,429.5 A22.4,22.4 0 0 1 221.1,443.1" stroke="#56e4f0" stroke-width="1.6" fill="none" opacity="0.9"/><path d="M214.37,434.05 A20.7,20.7 0 0 1 215.34,411.83" stroke="#bff4fa" stroke-width="2.2" fill="none" opacity="0.7"/>
<path d="M225.8,409.1L236.1,409.1L246.7,409.1" stroke="#555" stroke-width="1" fill="none"/><circle cx="225.8" cy="409.1" r="2.4" fill="url(#gH)"/><circle cx="246.7" cy="409.1" r="2.4" fill="url(#gH)"/><circle cx="236.1" cy="409.1" r="5.3" fill="url(#gOi)"/>
<circle cx="233.2" cy="429" r="13.7" fill="url(#gK)"/><ellipse cx="239.36" cy="423.52" rx="3.01" ry="4.93" fill="#b07ae0" opacity="0.55" transform="rotate(-35 239.36 423.52)"/><path d="M224.98,426.94l2.47,-3.42l2.05,3.42l-2.47,3.42z" fill="#a06ad8" opacity="0.6"/>
<circle cx="473.2" cy="422" r="26" fill="url(#gBub)"/><circle cx="473.2" cy="422" r="25.6" fill="none" stroke="#e2f9fc" stroke-width="0.8"/><path d="M498.21,417.59 A25.4,25.4 0 1 1 447.9,424.21" stroke="#8aeef6" stroke-width="1.5" fill="none"/><path d="M497.54,428.52 A25.2,25.2 0 0 1 460.6,443.82" stroke="#56e4f0" stroke-width="1.6" fill="none" opacity="0.9"/><path d="M452.85,433.75 A23.5,23.5 0 0 1 453.95,408.52" stroke="#bff4fa" stroke-width="2.2" fill="none" opacity="0.7"/>
<circle cx="476.6" cy="416.6" r="12.9" fill="url(#gK)"/><ellipse cx="482.41" cy="411.44" rx="2.84" ry="4.64" fill="#b07ae0" opacity="0.55" transform="rotate(-35 482.41 411.44)"/><path d="M468.86,414.67l2.32,-3.23l1.94,3.23l-2.32,3.23z" fill="#a06ad8" opacity="0.6"/>
<path d="M470.2,398.1L479.8,398.1L489.5,398.1" stroke="#555" stroke-width="1" fill="none"/><circle cx="470.2" cy="398.1" r="2.4" fill="url(#gH)"/><circle cx="489.5" cy="398.1" r="2.4" fill="url(#gH)"/><circle cx="479.8" cy="398.1" r="5.3" fill="url(#gOi)"/>
<path d="M462.1,436.8L472.6,435.2L480.6,442.4" stroke="#555" stroke-width="1" fill="none"/><circle cx="462.1" cy="436.8" r="2.4" fill="url(#gH)"/><circle cx="480.6" cy="442.4" r="2.4" fill="url(#gH)"/><circle cx="472.6" cy="435.2" r="5.3" fill="url(#gOi)"/>
<circle cx="229.7" cy="628" r="26.8" fill="url(#gBub)"/><circle cx="229.7" cy="628" r="26.4" fill="none" stroke="#e2f9fc" stroke-width="0.8"/><path d="M255.5,623.45 A26.2,26.2 0 1 1 203.6,630.28" stroke="#8aeef6" stroke-width="1.5" fill="none"/><path d="M254.81,634.73 A26,26 0 0 1 216.7,650.52" stroke="#56e4f0" stroke-width="1.6" fill="none" opacity="0.9"/><path d="M208.66,640.15 A24.3,24.3 0 0 1 209.79,614.06" stroke="#bff4fa" stroke-width="2.2" fill="none" opacity="0.7"/>
<path d="M216,623.5L219.2,632.4L234.5,635.6L245,628.4" stroke="#444" stroke-width="1.3" fill="none"/><path d="M227.3,624.4L229.7,611.5L223.2,615.5M219.2,632.4L209.5,637.3M234.5,635.6L222.4,642.9M234.5,635.6L241,643.7M227.3,624.4L234.5,635.6M245,628.4L240.2,614.7" stroke="#444" stroke-width="1.1" fill="none"/><circle cx="243.4" cy="614.7" r="8.9" fill="url(#gK)"/><ellipse cx="247.41" cy="611.14" rx="1.96" ry="3.2" fill="#b07ae0" opacity="0.55" transform="rotate(-35 247.41 611.14)"/><path d="M238.06,613.37l1.6,-2.23l1.33,2.23l-1.6,2.23z" fill="#a06ad8" opacity="0.6"/><circle cx="229.7" cy="611.5" r="5" fill="url(#gOi)"/><circle cx="216" cy="623.5" r="4.2" fill="url(#gOi)"/><circle cx="227.3" cy="624.4" r="5" fill="url(#gC)"/><circle cx="219.2" cy="632.4" r="4.8" fill="url(#gC)"/><circle cx="234.5" cy="635.6" r="5.8" fill="url(#gC)"/><circle cx="245" cy="628.4" r="6.5" fill="url(#gOi)"/><circle cx="240.2" cy="614.7" r="3.4" fill="url(#gH)"/><circle cx="223.2" cy="615.5" r="1.9" fill="url(#gH)"/><circle cx="209.5" cy="637.3" r="2.4" fill="url(#gH)"/><circle cx="222.4" cy="642.9" r="2.8" fill="url(#gH)"/><circle cx="241" cy="643.7" r="2.4" fill="url(#gH)"/>
<circle cx="465.3" cy="626.5" r="26.8" fill="url(#gBub)"/><circle cx="465.3" cy="626.5" r="26.4" fill="none" stroke="#e2f9fc" stroke-width="0.8"/><path d="M491.1,621.95 A26.2,26.2 0 1 1 439.2,628.78" stroke="#8aeef6" stroke-width="1.5" fill="none"/><path d="M490.41,633.23 A26,26 0 0 1 452.3,649.02" stroke="#56e4f0" stroke-width="1.6" fill="none" opacity="0.9"/><path d="M444.26,638.65 A24.3,24.3 0 0 1 445.39,612.56" stroke="#bff4fa" stroke-width="2.2" fill="none" opacity="0.7"/>
<path d="M453.2,622.7L456.4,631.6L471.7,634.8L482.2,627.6" stroke="#444" stroke-width="1.3" fill="none"/><path d="M464.5,623.6L466.9,610.7L460.4,614.7M456.4,631.6L446.7,636.5M471.7,634.8L459.6,642.1M471.7,634.8L478.2,642.9M464.5,623.6L471.7,634.8M482.2,627.6L477.4,613.9" stroke="#444" stroke-width="1.1" fill="none"/><circle cx="480.6" cy="613.9" r="8.9" fill="url(#gK)"/><ellipse cx="484.61" cy="610.34" rx="1.96" ry="3.2" fill="#b07ae0" opacity="0.55" transform="rotate(-35 484.61 610.34)"/><path d="M475.26,612.57l1.6,-2.23l1.33,2.23l-1.6,2.23z" fill="#a06ad8" opacity="0.6"/><circle cx="466.9" cy="610.7" r="5" fill="url(#gOi)"/><circle cx="453.2" cy="622.7" r="4.2" fill="url(#gOi)"/><circle cx="464.5" cy="623.6" r="5" fill="url(#gC)"/><circle cx="456.4" cy="631.6" r="4.8" fill="url(#gC)"/><circle cx="471.7" cy="634.8" r="5.8" fill="url(#gC)"/><circle cx="482.2" cy="627.6" r="6.5" fill="url(#gOi)"/><circle cx="477.4" cy="613.9" r="3.4" fill="url(#gH)"/><circle cx="460.4" cy="614.7" r="1.9" fill="url(#gH)"/><circle cx="446.7" cy="636.5" r="2.4" fill="url(#gH)"/><circle cx="459.6" cy="642.1" r="2.8" fill="url(#gH)"/><circle cx="478.2" cy="642.9" r="2.4" fill="url(#gH)"/>
<path d="M208,467.2H257.3" stroke="#f6a00c" stroke-width="4.2"/><path d="M273.3,467.2L252.3,458.4L255.1,467.2L252.3,476Z" fill="#f6a00c"/>
<path d="M441.1,467.4H491" stroke="#f6a00c" stroke-width="4.2"/><path d="M507,467.4L486,458.6L488.8,467.4L486,476.2Z" fill="#f6a00c"/>
<path d="M207.9,588.4H257.5" stroke="#0f62ee" stroke-width="3.8"/><path d="M273.5,588.4L252.5,579.15L255.3,588.4L252.5,597.65Z" fill="#0f62ee"/>
<path d="M441.1,588.5H490.9" stroke="#0f62ee" stroke-width="3.8"/><path d="M506.9,588.5L485.9,579.25L488.7,588.5L485.9,597.75Z" fill="#0f62ee"/>
<path d="M259.25,425.64L272.22,428.42L271.38,432.34L284.5,428.4L274.15,419.43L273.31,423.34L260.35,420.56Z" fill="url(#gArO)" stroke="#6e1414" stroke-width="1.1" stroke-dasharray="2.2,1.4"/>
<path d="M515.78,426.37L503.38,423.54L504.27,419.64L491.1,423.4L501.33,432.5L502.22,428.6L514.62,431.43Z" fill="url(#gArO2)" stroke="#6e1414" stroke-width="1.1" stroke-dasharray="2.2,1.4"/>
<path d="M262.12,625.95L274.96,623.34L275.76,627.26L286.2,618.4L273.13,614.32L273.92,618.24L261.08,620.85Z" fill="url(#gArB)" stroke="#6e1414" stroke-width="1.1" stroke-dasharray="2.2,1.4"/>
<path d="M516.44,614.66L503.35,617.56L502.49,613.66L492.2,622.7L505.34,626.55L504.48,622.64L517.56,619.74Z" fill="url(#gArB2)" stroke="#6e1414" stroke-width="1.1" stroke-dasharray="2.2,1.4"/>
<text x="212.4" y="488.3" font-size="11" textLength="48.6" lengthAdjust="spacingAndGlyphs" fill="#151515">Discharge</text>
<text x="453.2" y="488.4" font-size="11" textLength="35" lengthAdjust="spacingAndGlyphs" fill="#151515">Charge</text>
<text x="215.2" y="573.5" font-size="11" textLength="49.2" lengthAdjust="spacingAndGlyphs" fill="#151515">Discharge</text>
<text x="453.2" y="573.5" font-size="11" textLength="35" lengthAdjust="spacingAndGlyphs" fill="#151515">Charge</text>
<text x="97.5" y="513" font-size="11" textLength="56.1" lengthAdjust="spacingAndGlyphs" fill="#151515">21 m KOTF</text>
<text x="292.8" y="514.4" font-size="10.75" fill="#151515">K<tspan font-size="7" dy="-4">+</tspan><tspan dy="4"> and H</tspan><tspan font-size="7" dy="2.5">2</tspan><tspan dy="-2.5">O co-intercalation</tspan></text>
<text x="512.2" y="513.1" font-size="11" textLength="153.9" lengthAdjust="spacingAndGlyphs" fill="#151515">Interstitial water de-intercalation</text>
<text x="67.8" y="671.1" font-size="11" textLength="113.8" lengthAdjust="spacingAndGlyphs" fill="#151515">21 m KOTF + 1 m DHA</text>
<text x="291.7" y="664.5" font-size="11" fill="#151515">K<tspan font-size="7" dy="-4">+</tspan><tspan dy="4"> and DHA co-intercalation</tspan></text>
<text x="291.7" y="679.2" font-size="11" fill="#151515">K<tspan font-size="7" dy="-4">+</tspan><tspan dy="4">-DHA self-shielding</tspan></text>
<text x="515.4" y="671.2" font-size="11" textLength="143.4" lengthAdjust="spacingAndGlyphs" fill="#151515">Interstitial water is maintained</text>
<circle cx="103.7" cy="532.9" r="7.7" fill="url(#gK)"/>
<text x="118.5" y="538.2" font-size="11.2" fill="#151515">K</text>
<circle cx="160.1" cy="532.9" r="7.7" fill="url(#gMn)"/>
<text x="174.6" y="538.2" font-size="11.2" fill="#151515">Mn</text>
<circle cx="219.8" cy="532.9" r="7.7" fill="url(#gCr)"/>
<text x="233.7" y="538.2" font-size="11.2" fill="#151515">Cr</text>
<circle cx="273" cy="532.9" r="7.7" fill="url(#gC)"/>
<text x="287.4" y="538.2" font-size="11.2" fill="#151515">C</text>
<circle cx="329" cy="532.9" r="7.7" fill="url(#gNl)"/>
<text x="342.3" y="538.2" font-size="11.2" fill="#151515">N</text>
<circle cx="386.1" cy="532.9" r="7.7" fill="url(#gOi)"/>
<text x="399.5" y="538.2" font-size="11.2" fill="#151515">Interstitial O</text>
<circle cx="482.3" cy="532.9" r="7.7" fill="url(#gCO)"/>
<text x="494.9" y="538.2" font-size="11.2" fill="#151515">Coordinated O</text>
<circle cx="586.8" cy="532.9" r="7.7" fill="url(#gH)"/>
<text x="602" y="538.2" font-size="11.2" fill="#151515">H</text>

</svg>
</body></html>
